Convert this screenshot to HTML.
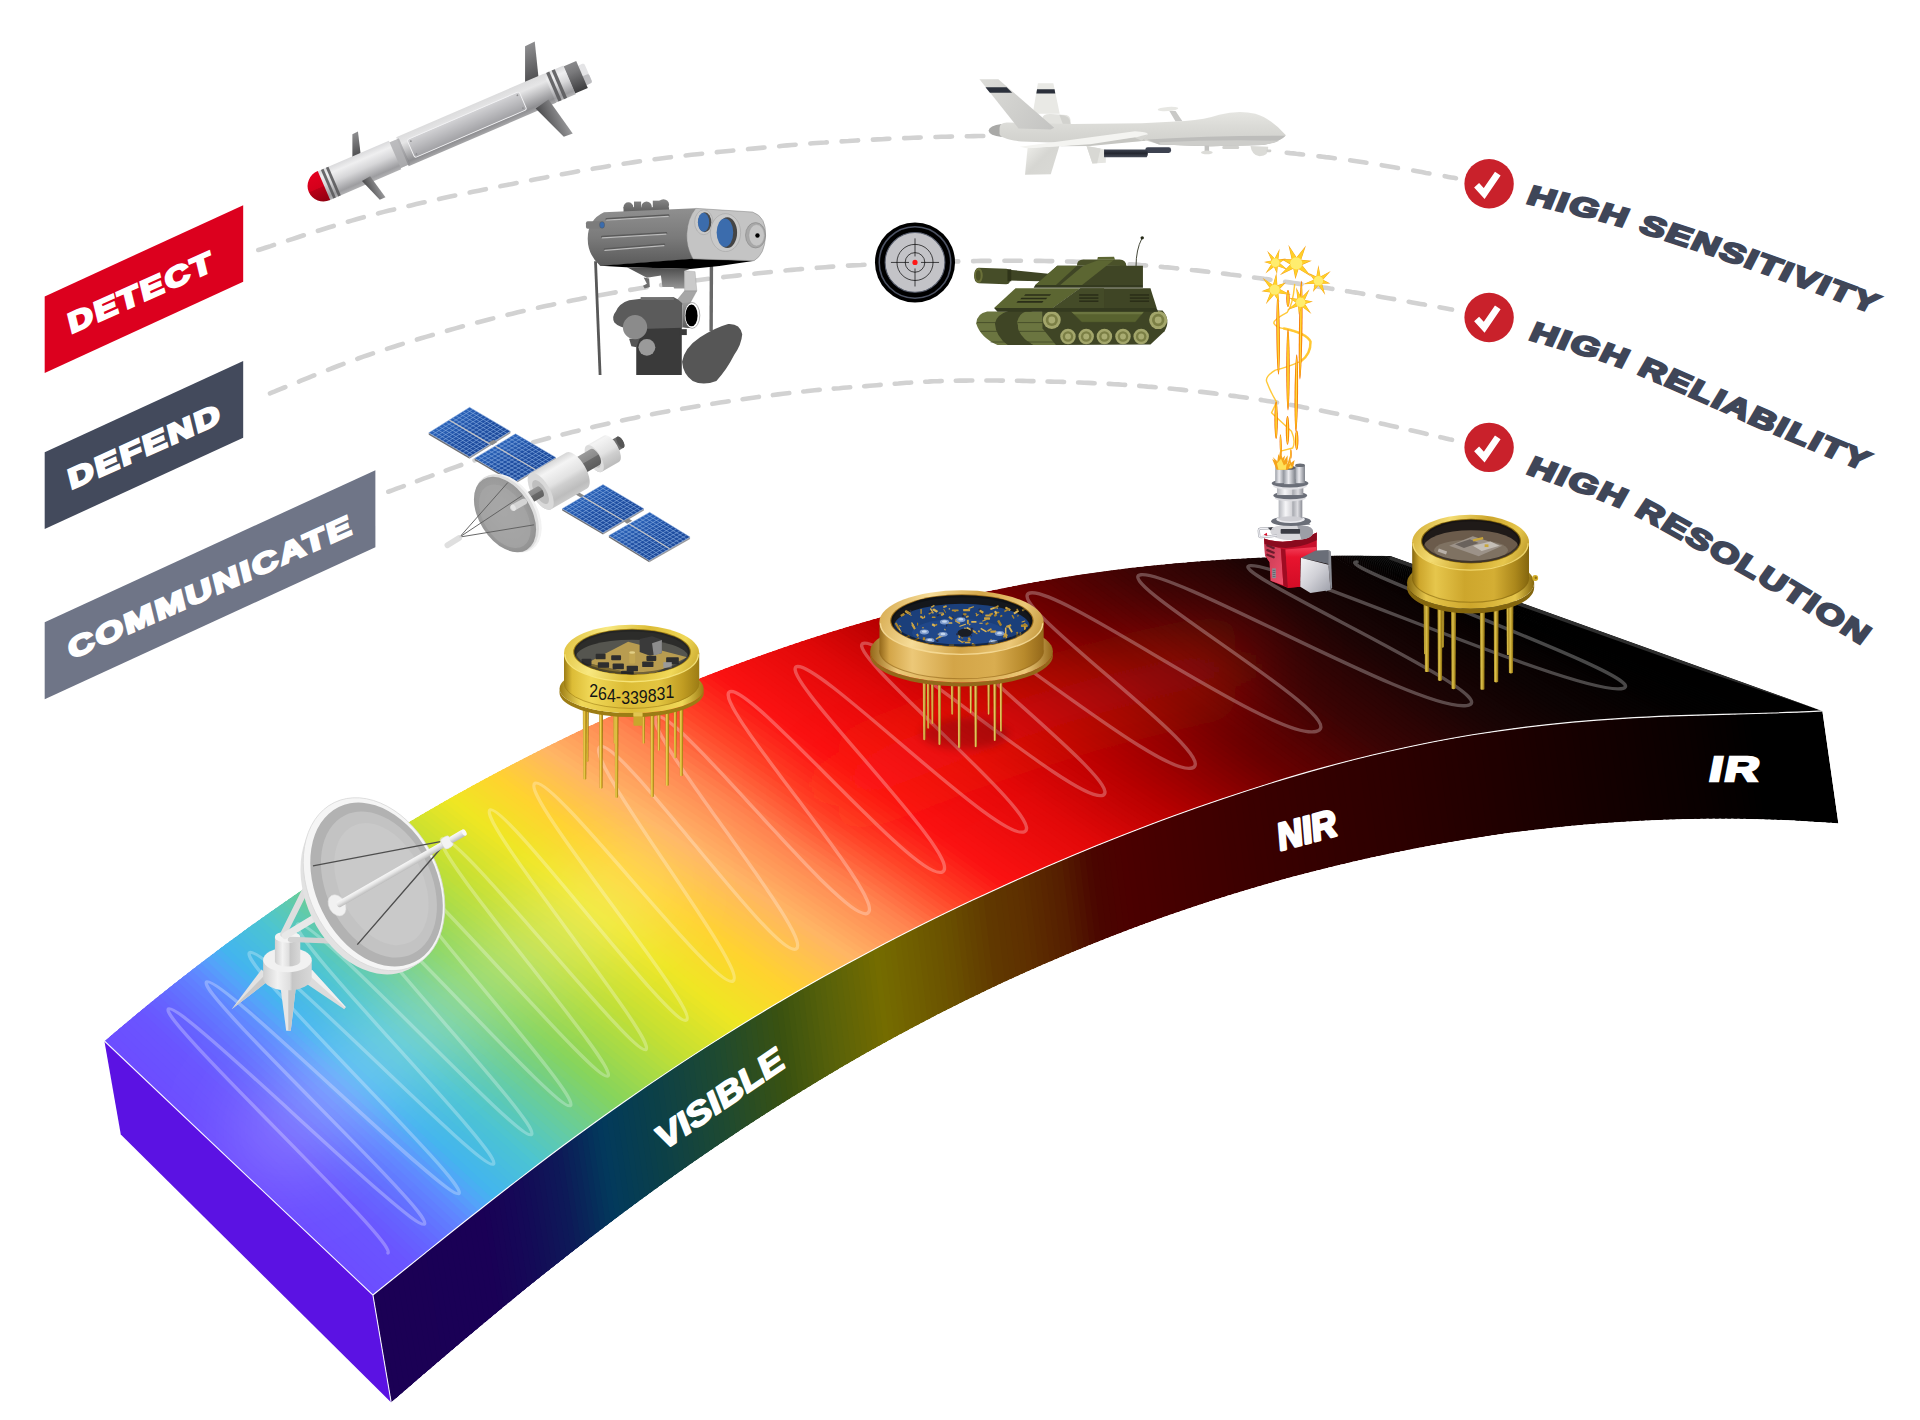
<!DOCTYPE html>
<html lang="en"><head><meta charset="utf-8"><title>Detect Defend Communicate - Spectrum</title>
<style>
html,body{margin:0;padding:0;background:#fff;}
body{width:1920px;height:1420px;overflow:hidden;font-family:"Liberation Sans",sans-serif;}
svg{display:block;}
text{font-family:"Liberation Sans",sans-serif;}
</style></head><body>
<svg width="1920" height="1420" viewBox="0 0 1920 1420">
<defs>



<filter id="blur18" filterUnits="userSpaceOnUse" x="0" y="400" width="1920" height="1020"><feGaussianBlur stdDeviation="40"/></filter>
<clipPath id="clipTop"><path d="M104.4,1041.0 C112.3,1034.4 136.1,1014.2 152.0,1001.3 C167.9,988.4 183.8,975.9 199.7,963.7 C215.6,951.5 231.4,939.8 247.3,928.3 C263.2,916.8 279.0,905.7 294.9,894.8 C310.8,883.9 326.6,873.4 342.5,863.1 C358.4,852.9 374.3,843.0 390.2,833.3 C406.1,823.7 421.9,814.3 437.8,805.1 C453.7,796.0 469.5,787.1 485.4,778.5 C501.3,769.9 517.2,761.7 533.1,753.6 C549.0,745.6 564.8,737.7 580.7,730.1 C596.6,722.6 612.4,715.3 628.3,708.2 C644.2,701.2 660.1,694.5 676.0,687.9 C691.9,681.4 707.7,675.1 723.6,669.0 C739.5,663.0 755.3,657.2 771.2,651.7 C787.1,646.1 802.9,640.7 818.8,635.7 C834.7,630.6 850.6,625.8 866.5,621.3 C882.4,616.7 898.2,612.3 914.1,608.3 C930.0,604.2 945.8,600.4 961.7,596.9 C977.6,593.3 993.5,590.0 1009.4,586.9 C1025.3,583.8 1041.1,580.9 1057.0,578.3 C1072.9,575.7 1088.7,573.3 1104.6,571.2 C1120.5,569.0 1136.4,567.1 1152.3,565.5 C1168.2,563.8 1184.0,562.4 1199.9,561.2 C1215.8,560.0 1231.6,559.0 1247.5,558.2 C1263.4,557.4 1279.2,556.7 1295.1,556.3 C1311.0,555.9 1326.9,555.7 1342.8,555.6 C1358.7,555.5 1382.5,555.8 1390.4,555.9 L1822.4,710.9 L1822.4,710.9 C1814.1,711.3 1789.2,712.5 1772.5,713.0 C1755.8,713.6 1739.2,713.9 1722.5,714.4 C1705.8,714.9 1689.2,715.3 1672.5,715.9 C1655.8,716.6 1639.2,717.4 1622.6,718.4 C1605.9,719.4 1589.3,720.6 1572.6,722.1 C1555.9,723.7 1539.3,725.5 1522.6,727.6 C1505.9,729.7 1489.3,732.1 1472.6,734.8 C1455.9,737.6 1439.3,740.6 1422.6,744.0 C1405.9,747.4 1389.3,751.1 1372.6,755.0 C1355.9,759.0 1339.2,763.3 1322.6,767.9 C1305.9,772.5 1289.3,777.4 1272.7,782.5 C1256.1,787.7 1239.4,793.1 1222.7,798.7 C1206.0,804.3 1189.4,810.1 1172.7,816.2 C1156.0,822.3 1139.4,828.7 1122.7,835.3 C1106.0,841.8 1089.4,848.5 1072.7,855.5 C1056.0,862.5 1039.4,869.7 1022.7,877.2 C1006.0,884.6 989.4,892.3 972.7,900.1 C956.0,908.0 939.4,916.0 922.7,924.3 C906.1,932.6 889.4,941.1 872.8,949.9 C856.1,958.7 839.5,967.7 822.8,977.1 C806.1,986.4 789.5,995.9 772.8,1005.8 C756.1,1015.7 739.5,1025.9 722.8,1036.4 C706.1,1046.8 689.5,1057.6 672.8,1068.6 C656.1,1079.7 639.5,1091.0 622.8,1102.7 C606.1,1114.3 589.4,1126.3 572.8,1138.5 C556.1,1150.7 539.5,1163.3 522.9,1176.1 C506.2,1188.8 489.6,1201.9 472.9,1215.0 C456.2,1228.1 439.6,1241.5 422.9,1254.9 C406.2,1268.2 381.2,1288.3 372.9,1295.0 Z"/></clipPath>
<clipPath id="clipFront"><path d="M372.9,1295.0 C381.2,1288.3 406.2,1268.2 422.9,1254.9 C439.6,1241.5 456.2,1228.1 472.9,1215.0 C489.6,1201.9 506.2,1188.8 522.9,1176.1 C539.5,1163.3 556.1,1150.7 572.8,1138.5 C589.4,1126.3 606.1,1114.3 622.8,1102.7 C639.5,1091.0 656.1,1079.7 672.8,1068.6 C689.5,1057.6 706.1,1046.8 722.8,1036.4 C739.5,1025.9 756.1,1015.7 772.8,1005.8 C789.5,995.9 806.1,986.4 822.8,977.1 C839.5,967.7 856.1,958.7 872.8,949.9 C889.4,941.1 906.1,932.6 922.7,924.3 C939.4,916.0 956.0,908.0 972.7,900.1 C989.4,892.3 1006.0,884.6 1022.7,877.2 C1039.4,869.7 1056.0,862.5 1072.7,855.5 C1089.4,848.5 1106.0,841.8 1122.7,835.3 C1139.4,828.7 1156.0,822.3 1172.7,816.2 C1189.4,810.1 1206.0,804.3 1222.7,798.7 C1239.4,793.1 1256.1,787.7 1272.7,782.5 C1289.3,777.4 1305.9,772.5 1322.6,767.9 C1339.2,763.3 1355.9,759.0 1372.6,755.0 C1389.3,751.1 1405.9,747.4 1422.6,744.0 C1439.3,740.6 1455.9,737.6 1472.6,734.8 C1489.3,732.1 1505.9,729.7 1522.6,727.6 C1539.3,725.5 1555.9,723.7 1572.6,722.1 C1589.3,720.6 1605.9,719.4 1622.6,718.4 C1639.2,717.4 1655.8,716.6 1672.5,715.9 C1689.2,715.3 1705.8,714.9 1722.5,714.4 C1739.2,713.9 1755.8,713.6 1772.5,713.0 C1789.2,712.5 1814.1,711.3 1822.4,710.9 L1838.4,823.4 L1838.4,823.4 C1830.1,822.9 1805.2,821.1 1788.6,820.3 C1772.0,819.6 1755.3,819.0 1738.7,818.8 C1722.1,818.6 1705.4,818.7 1688.8,819.1 C1672.2,819.4 1655.5,820.0 1638.9,820.9 C1622.3,821.7 1605.6,822.9 1589.0,824.3 C1572.4,825.7 1555.7,827.4 1539.1,829.3 C1522.5,831.2 1505.8,833.4 1489.2,835.8 C1472.6,838.3 1455.9,841.0 1439.3,843.9 C1422.7,846.9 1406.0,850.2 1389.4,853.7 C1372.8,857.1 1356.1,860.9 1339.5,864.9 C1322.9,868.9 1306.2,873.1 1289.6,877.6 C1273.0,882.1 1256.3,886.9 1239.7,892.0 C1223.1,897.1 1206.4,902.4 1189.8,908.0 C1173.2,913.6 1156.6,919.5 1139.9,925.6 C1123.2,931.8 1106.6,938.2 1089.9,945.0 C1073.2,951.7 1056.6,958.7 1040.0,966.0 C1023.4,973.3 1006.7,980.8 990.1,988.7 C973.5,996.6 956.8,1004.8 940.2,1013.3 C923.6,1021.8 906.9,1030.6 890.3,1039.7 C873.7,1048.8 857.0,1058.2 840.4,1067.9 C823.8,1077.7 807.1,1087.8 790.5,1098.2 C773.9,1108.5 757.2,1119.2 740.6,1130.2 C724.0,1141.2 707.3,1152.5 690.7,1164.1 C674.1,1175.7 657.4,1187.7 640.8,1199.9 C624.2,1212.1 607.5,1224.6 590.9,1237.4 C574.3,1250.2 557.6,1263.3 541.0,1276.6 C524.4,1290.0 507.7,1303.6 491.1,1317.4 C474.5,1331.2 457.9,1345.2 441.2,1359.4 C424.5,1373.6 399.5,1395.3 391.2,1402.5 Z"/></clipPath>




<linearGradient id="mBody" x1="0" y1="-16" x2="0" y2="16" gradientUnits="userSpaceOnUse">
<stop offset="0" stop-color="#d9d9db"/><stop offset="0.22" stop-color="#efeff0"/><stop offset="0.5" stop-color="#d6d6d8"/><stop offset="0.86" stop-color="#9d9da0"/><stop offset="1" stop-color="#b4b4b6"/>
</linearGradient>
<linearGradient id="mBody2" x1="0" y1="-16" x2="0" y2="16" gradientUnits="userSpaceOnUse">
<stop offset="0" stop-color="#dcdcdd"/><stop offset="0.25" stop-color="#e6e6e7"/><stop offset="0.5" stop-color="#c2c2c4"/><stop offset="0.85" stop-color="#8e8e91"/><stop offset="1" stop-color="#a8a8aa"/>
</linearGradient>
<linearGradient id="mDark" x1="0" y1="-15" x2="0" y2="15" gradientUnits="userSpaceOnUse">
<stop offset="0" stop-color="#8a8a8c"/><stop offset="0.3" stop-color="#7a7a7c"/><stop offset="1" stop-color="#3c3c3e"/>
</linearGradient>
<linearGradient id="mRed" x1="0" y1="-16" x2="0" y2="16" gradientUnits="userSpaceOnUse">
<stop offset="0" stop-color="#e2001f"/><stop offset="0.5" stop-color="#d4001b"/><stop offset="0.52" stop-color="#b90017"/><stop offset="1" stop-color="#8e0010"/>
</linearGradient>
<linearGradient id="mFin" x1="0" y1="0" x2="1" y2="0">
<stop offset="0" stop-color="#4a4a4c"/><stop offset="1" stop-color="#9a9a9c"/>
</linearGradient>
<linearGradient id="mFinV" x1="0" y1="0" x2="0" y2="1">
<stop offset="0" stop-color="#8e8e90"/><stop offset="1" stop-color="#4c4c4e"/>
</linearGradient>


<linearGradient id="dFus" x1="0" y1="300" x2="0" y2="500" gradientUnits="userSpaceOnUse">
<stop offset="0" stop-color="#e6e6e2"/><stop offset="0.45" stop-color="#dadad6"/><stop offset="1" stop-color="#cfcfcb"/>
</linearGradient>
<linearGradient id="dFin" x1="60" y1="110" x2="480" y2="400" gradientUnits="userSpaceOnUse">
<stop offset="0" stop-color="#dcdcd8"/><stop offset="1" stop-color="#c4c4c2"/>
</linearGradient>
<linearGradient id="dWingD" x1="330" y1="510" x2="480" y2="660" gradientUnits="userSpaceOnUse">
<stop offset="0" stop-color="#ecece8"/><stop offset="0.5" stop-color="#d6d6d2"/><stop offset="1" stop-color="#d9d9d5"/>
</linearGradient>
<linearGradient id="dMis" x1="0" y1="520" x2="0" y2="566" gradientUnits="userSpaceOnUse">
<stop offset="0" stop-color="#3e4452"/><stop offset="0.5" stop-color="#23262f"/><stop offset="1" stop-color="#474c59"/>
</linearGradient>


<linearGradient id="bBody" x1="0" y1="170" x2="0" y2="545" gradientUnits="userSpaceOnUse">
<stop offset="0" stop-color="#8e8e8e"/><stop offset="0.5" stop-color="#7a7a7a"/><stop offset="1" stop-color="#5a5a5a"/>
</linearGradient>
<linearGradient id="bKnob" x1="0" y1="100" x2="0" y2="180" gradientUnits="userSpaceOnUse">
<stop offset="0" stop-color="#858585"/><stop offset="1" stop-color="#606060"/>
</linearGradient>
<linearGradient id="bMount" x1="0" y1="555" x2="0" y2="720" gradientUnits="userSpaceOnUse">
<stop offset="0" stop-color="#4a4a4a"/><stop offset="1" stop-color="#a0a0a0"/>
</linearGradient>
<linearGradient id="bCyl" x1="0" y1="800" x2="0" y2="965" gradientUnits="userSpaceOnUse">
<stop offset="0" stop-color="#9a9a9a"/><stop offset="1" stop-color="#5c5c5c"/>
</linearGradient>



<linearGradient id="sPanel" x1="0.5" y1="0" x2="0.5" y2="1"><stop offset="0" stop-color="#2a62b8"/><stop offset="0.5" stop-color="#1f4fa3"/><stop offset="1" stop-color="#1d4a9b"/></linearGradient>
<linearGradient id="sDrum" x1="0" y1="-140" x2="0" y2="140" gradientUnits="userSpaceOnUse">
<stop offset="0" stop-color="#d8d8d8"/><stop offset="0.18" stop-color="#f4f4f4"/><stop offset="0.5" stop-color="#e2e2e2"/><stop offset="0.62" stop-color="#cfcfcf"/><stop offset="0.85" stop-color="#bdbdbd"/><stop offset="1" stop-color="#c9c9c9"/>
</linearGradient>
<linearGradient id="sShaft" x1="0" y1="-60" x2="0" y2="60" gradientUnits="userSpaceOnUse">
<stop offset="0" stop-color="#9a9a9a"/><stop offset="0.45" stop-color="#8a8a8a"/><stop offset="0.5" stop-color="#6a6a6a"/><stop offset="1" stop-color="#5c5c5c"/>
</linearGradient>
<radialGradient id="sDish" cx="0.45" cy="0.5" r="0.6"><stop offset="0" stop-color="#a9a9a9"/><stop offset="0.7" stop-color="#9b9b9b"/><stop offset="1" stop-color="#8e8e8e"/></radialGradient>


<linearGradient id="aCyl" x1="0" y1="0" x2="1" y2="0"><stop offset="0" stop-color="#cfcfcf"/><stop offset="0.3" stop-color="#f2f2f2"/><stop offset="0.55" stop-color="#dedede"/><stop offset="0.6" stop-color="#c6c6c6"/><stop offset="1" stop-color="#d8d8d8"/></linearGradient>
<linearGradient id="aArm" x1="0" y1="-18" x2="0" y2="18" gradientUnits="userSpaceOnUse"><stop offset="0" stop-color="#f8f8f8"/><stop offset="0.45" stop-color="#e6e6e6"/><stop offset="1" stop-color="#bdbdbd"/></linearGradient>


<linearGradient id="c1Pin" x1="0" y1="0" x2="1" y2="0"><stop offset="0" stop-color="#b89020"/><stop offset="0.35" stop-color="#f0d458"/><stop offset="0.6" stop-color="#d4ac28"/><stop offset="1" stop-color="#86660c"/></linearGradient>
<linearGradient id="c1Side" x1="135" y1="0" x2="1095" y2="0" gradientUnits="userSpaceOnUse">
<stop offset="0" stop-color="#9c7c14"/><stop offset="0.06" stop-color="#dcbc36"/><stop offset="0.2" stop-color="#f0d858"/><stop offset="0.45" stop-color="#dcbc36"/><stop offset="0.7" stop-color="#e2c440"/><stop offset="0.88" stop-color="#c09c22"/><stop offset="1" stop-color="#9c7c14"/>
</linearGradient>
<linearGradient id="c1Rim" x1="135" y1="70" x2="1095" y2="470" gradientUnits="userSpaceOnUse">
<stop offset="0" stop-color="#dcbc36"/><stop offset="0.28" stop-color="#f8e880"/><stop offset="0.55" stop-color="#dcbc36"/><stop offset="0.8" stop-color="#f0d858"/><stop offset="1" stop-color="#c09c22"/>
</linearGradient>
<linearGradient id="c1Fl" x1="103" y1="0" x2="1127" y2="0" gradientUnits="userSpaceOnUse">
<stop offset="0" stop-color="#9c7c14"/><stop offset="0.15" stop-color="#f0d858"/><stop offset="0.5" stop-color="#dcbc36"/><stop offset="0.85" stop-color="#f0d858"/><stop offset="1" stop-color="#9c7c14"/>
</linearGradient>
<clipPath id="c1Win"><ellipse cx="618" cy="262" rx="410" ry="158"/></clipPath>
<filter id="c1Bl" x="-30%" y="-30%" width="160%" height="160%"><feGaussianBlur stdDeviation="28"/></filter>

<linearGradient id="c2Pin" x1="0" y1="0" x2="1" y2="0"><stop offset="0" stop-color="#b08a28"/><stop offset="0.35" stop-color="#ecc866"/><stop offset="0.6" stop-color="#cfa23a"/><stop offset="1" stop-color="#80600f"/></linearGradient>
<linearGradient id="c2Side" x1="190" y1="0" x2="1250" y2="0" gradientUnits="userSpaceOnUse">
<stop offset="0" stop-color="#94681a"/><stop offset="0.06" stop-color="#d3a548"/><stop offset="0.2" stop-color="#ecc878"/><stop offset="0.45" stop-color="#d3a548"/><stop offset="0.7" stop-color="#d9ad50"/><stop offset="0.88" stop-color="#b88a2c"/><stop offset="1" stop-color="#94681a"/>
</linearGradient>
<linearGradient id="c2Rim" x1="190" y1="195" x2="1250" y2="605" gradientUnits="userSpaceOnUse">
<stop offset="0" stop-color="#d3a548"/><stop offset="0.28" stop-color="#f6dc98"/><stop offset="0.55" stop-color="#d3a548"/><stop offset="0.8" stop-color="#ecc878"/><stop offset="1" stop-color="#b88a2c"/>
</linearGradient>
<linearGradient id="c2Fl" x1="130" y1="0" x2="1310" y2="0" gradientUnits="userSpaceOnUse">
<stop offset="0" stop-color="#94681a"/><stop offset="0.15" stop-color="#ecc878"/><stop offset="0.5" stop-color="#d3a548"/><stop offset="0.85" stop-color="#ecc878"/><stop offset="1" stop-color="#94681a"/>
</linearGradient>
<clipPath id="c2Win"><ellipse cx="722" cy="392" rx="455" ry="165"/></clipPath>
<filter id="c2Bl" x="-30%" y="-30%" width="160%" height="160%"><feGaussianBlur stdDeviation="28"/></filter>

<linearGradient id="c3Pin" x1="0" y1="0" x2="1" y2="0"><stop offset="0" stop-color="#9c7e16"/><stop offset="0.35" stop-color="#dcc050"/><stop offset="0.6" stop-color="#c0a02c"/><stop offset="1" stop-color="#74580a"/></linearGradient>
<linearGradient id="c3Side" x1="150" y1="0" x2="940" y2="0" gradientUnits="userSpaceOnUse">
<stop offset="0" stop-color="#84660e"/><stop offset="0.06" stop-color="#cda62c"/><stop offset="0.2" stop-color="#e6c64c"/><stop offset="0.45" stop-color="#cda62c"/><stop offset="0.7" stop-color="#d4ae34"/><stop offset="0.88" stop-color="#ac881c"/><stop offset="1" stop-color="#84660e"/>
</linearGradient>
<linearGradient id="c3Rim" x1="150" y1="100" x2="940" y2="470" gradientUnits="userSpaceOnUse">
<stop offset="0" stop-color="#cda62c"/><stop offset="0.28" stop-color="#f4dc72"/><stop offset="0.55" stop-color="#cda62c"/><stop offset="0.8" stop-color="#e6c64c"/><stop offset="1" stop-color="#ac881c"/>
</linearGradient>
<linearGradient id="c3Fl" x1="115" y1="0" x2="975" y2="0" gradientUnits="userSpaceOnUse">
<stop offset="0" stop-color="#84660e"/><stop offset="0.15" stop-color="#e6c64c"/><stop offset="0.5" stop-color="#cda62c"/><stop offset="0.85" stop-color="#e6c64c"/><stop offset="1" stop-color="#84660e"/>
</linearGradient>
<clipPath id="c3Win"><ellipse cx="548" cy="278" rx="330" ry="145"/></clipPath>
<filter id="c3Bl" x="-30%" y="-30%" width="160%" height="160%"><feGaussianBlur stdDeviation="28"/></filter>


<linearGradient id="fCol" x1="0" y1="0" x2="1" y2="0"><stop offset="0" stop-color="#b4b6bc"/><stop offset="0.3" stop-color="#f6f6f8"/><stop offset="0.55" stop-color="#d4d4d8"/><stop offset="0.6" stop-color="#a8aab0"/><stop offset="0.8" stop-color="#dcdce0"/><stop offset="1" stop-color="#8c8e96"/></linearGradient>
<linearGradient id="fTube" x1="0" y1="0" x2="1" y2="0"><stop offset="0" stop-color="#9a9ea6"/><stop offset="0.4" stop-color="#ececf0"/><stop offset="1" stop-color="#7c8088"/></linearGradient>
<linearGradient id="fPink" x1="0" y1="0" x2="1" y2="1"><stop offset="0" stop-color="#c23850"/><stop offset="1" stop-color="#f2506c"/></linearGradient>
<linearGradient id="fRed" x1="0" y1="0" x2="0" y2="1"><stop offset="0" stop-color="#f2405a"/><stop offset="0.25" stop-color="#e8142e"/><stop offset="1" stop-color="#d20c26"/></linearGradient>
<linearGradient id="fBox" x1="0" y1="0" x2="1" y2="1"><stop offset="0" stop-color="#f4f4f6"/><stop offset="0.5" stop-color="#d0d0d6"/><stop offset="1" stop-color="#9c9ea8"/></linearGradient>

</defs>
<rect width="1920" height="1420" fill="#fff"/>
<g fill="none" stroke="#d2d2d2" stroke-width="4.6" stroke-linecap="round">
<path d="M258.3,250.0 L260.9,249.2 L263.8,248.3 L267.0,247.2 L270.6,246.1 L274.4,244.8 L278.5,243.5 L282.9,242.1 L287.4,240.6 L292.2,239.1 L297.1,237.5 L302.2,235.8 L307.5,234.1 L312.8,232.4 L318.3,230.7 L323.8,229.0 L329.3,227.3 L334.9,225.6 L340.6,223.9 L346.2,222.2 L351.7,220.6 L357.3,219.0 L362.7,217.5 L368.1,216.0 L373.3,214.6 L378.5,213.3 L383.8,211.9 L389.1,210.6 L394.5,209.3 L399.9,208.0 L405.4,206.7 L410.9,205.4 L416.4,204.1 L422.0,202.8 L427.6,201.6 L433.2,200.3 L438.9,199.1 L444.5,197.8 L450.2,196.6 L455.9,195.4 L461.6,194.2 L467.2,193.0 L472.9,191.8 L478.6,190.7 L484.3,189.5 L489.9,188.4 L495.5,187.2 L501.1,186.1 L506.7,185.0 L512.3,183.9 L517.8,182.8 L523.4,181.7 L528.9,180.6 L534.5,179.5 L540.0,178.4 L545.6,177.4 L551.1,176.3 L556.7,175.3 L562.2,174.2 L567.8,173.2 L573.4,172.2 L578.9,171.2 L584.5,170.2 L590.0,169.3 L595.6,168.3 L601.1,167.4 L606.7,166.4 L612.2,165.5 L617.8,164.7 L623.3,163.8 L628.9,162.9 L634.4,162.1 L640.0,161.3 L645.6,160.5 L651.2,159.7 L656.9,159.0 L662.6,158.3 L668.3,157.5 L674.1,156.8 L679.9,156.1 L685.7,155.5 L691.5,154.8 L697.2,154.2 L703.0,153.6 L708.7,153.0 L714.4,152.4 L720.1,151.8 L725.8,151.2 L731.3,150.7 L736.9,150.1 L742.3,149.6 L747.7,149.1 L753.0,148.6 L758.2,148.1 L763.4,147.6 L768.4,147.2 L773.3,146.7 L778.1,146.3 L782.8,145.8 L787.3,145.4 L791.8,145.0 L796.1,144.7 L800.4,144.3 L804.6,144.0 L808.7,143.6 L812.8,143.3 L816.8,143.0 L820.8,142.7 L824.8,142.5 L828.7,142.2 L832.6,141.9 L836.5,141.7 L840.5,141.4 L844.4,141.2 L848.4,141.0 L852.4,140.7 L856.4,140.5 L860.5,140.3 L864.7,140.0 L869.0,139.8 L873.3,139.6 L877.7,139.4 L882.1,139.2 L886.5,138.9 L891.0,138.7 L895.4,138.5 L899.9,138.3 L904.4,138.1 L909.0,138.0 L913.5,137.8 L918.1,137.6 L922.7,137.4 L927.3,137.3 L931.9,137.1 L936.5,137.0 L941.1,136.8 L945.8,136.7 L950.4,136.6 L955.1,136.5 L959.8,136.4 L964.5,136.3 L969.2,136.2 L973.9,136.1 L978.6,136.0 L983.3,136.0" stroke-dasharray="16.50 14.82"/>
<path d="M1286.7,152.7 L1290.0,153.1 L1293.2,153.4 L1296.3,153.8 L1299.4,154.1 L1302.5,154.5 L1305.4,154.8 L1308.4,155.1 L1311.3,155.4 L1314.2,155.8 L1317.0,156.1 L1319.9,156.4 L1322.8,156.7 L1325.6,157.1 L1328.5,157.4 L1331.4,157.8 L1334.4,158.2 L1337.4,158.5 L1340.4,158.9 L1343.5,159.3 L1346.6,159.8 L1349.8,160.2 L1353.1,160.7 L1356.5,161.2 L1360.0,161.7 L1363.6,162.3 L1367.5,162.9 L1371.6,163.5 L1375.8,164.2 L1380.2,164.9 L1384.7,165.7 L1389.2,166.5 L1393.9,167.3 L1398.6,168.1 L1403.3,168.9 L1407.9,169.7 L1412.6,170.5 L1417.2,171.3 L1421.7,172.1 L1426.0,172.9 L1430.3,173.6 L1434.3,174.4 L1438.2,175.1 L1441.9,175.7 L1445.3,176.3 L1448.4,176.9 L1451.3,177.4 L1453.8,177.8 L1456.0,178.2" stroke-dasharray="16.50 15.45"/>
<path d="M270.0,393.3 L272.3,392.4 L274.9,391.4 L277.8,390.2 L280.9,388.9 L284.3,387.5 L287.9,386.1 L291.7,384.5 L295.7,382.9 L299.8,381.2 L304.2,379.4 L308.7,377.6 L313.3,375.7 L318.1,373.8 L322.9,371.9 L327.8,369.9 L332.8,368.0 L337.9,366.0 L342.9,364.1 L348.0,362.2 L353.1,360.3 L358.2,358.5 L363.3,356.7 L368.3,355.0 L373.3,353.3 L378.3,351.7 L383.4,350.0 L388.5,348.4 L393.8,346.7 L399.1,345.0 L404.5,343.3 L410.0,341.7 L415.5,340.0 L421.1,338.3 L426.8,336.6 L432.4,335.0 L438.1,333.3 L443.9,331.7 L449.6,330.0 L455.4,328.4 L461.1,326.8 L466.9,325.3 L472.7,323.7 L478.4,322.2 L484.1,320.7 L489.8,319.2 L495.5,317.8 L501.1,316.4 L506.7,315.0 L512.3,313.7 L517.8,312.3 L523.4,311.0 L528.9,309.8 L534.5,308.5 L540.0,307.3 L545.6,306.1 L551.1,304.9 L556.7,303.7 L562.2,302.5 L567.8,301.4 L573.4,300.3 L578.9,299.2 L584.5,298.1 L590.0,297.1 L595.6,296.0 L601.1,295.0 L606.7,294.0 L612.2,293.0 L617.8,292.0 L623.3,291.1 L628.9,290.1 L634.4,289.2 L640.0,288.3 L645.6,287.4 L651.2,286.5 L656.9,285.7 L662.6,284.8 L668.3,284.0 L674.1,283.2 L679.9,282.4 L685.7,281.7 L691.5,280.9 L697.2,280.2 L703.0,279.5 L708.7,278.8 L714.4,278.1 L720.1,277.5 L725.8,276.8 L731.3,276.2 L736.9,275.6 L742.3,275.0 L747.7,274.4 L753.0,273.8 L758.2,273.3 L763.4,272.7 L768.4,272.2 L773.3,271.7 L778.1,271.2 L782.8,270.7 L787.4,270.3 L791.9,269.9 L796.2,269.5 L800.6,269.1 L804.8,268.7 L809.0,268.4 L813.1,268.1 L817.2,267.8 L821.2,267.5 L825.2,267.2 L829.1,266.9 L833.1,266.6 L837.0,266.4 L840.9,266.1 L844.9,265.9 L848.8,265.6 L852.8,265.4 L856.8,265.2 L860.9,265.0 L865.0,264.7 L869.1,264.5 L873.3,264.3 L877.5,264.1 L881.8,263.9 L886.1,263.7 L890.4,263.5 L894.7,263.3 L899.0,263.1 L903.3,262.9 L907.6,262.7 L912.0,262.6 L916.3,262.4 L920.7,262.3 L925.0,262.1 L929.3,262.0 L933.7,261.9 L938.0,261.8 L942.4,261.7 L946.7,261.5 L951.0,261.4 L955.3,261.4 L959.6,261.3 L963.9,261.2 L968.2,261.1 L972.5,261.1 L976.7,261.0 L980.9,260.9 L985.2,260.9 L989.5,260.9 L993.8,260.8 L998.0,260.8 L1002.3,260.8 L1006.6,260.8 L1010.9,260.8 L1015.2,260.8 L1019.5,260.8 L1023.7,260.8 L1028.0,260.8 L1032.2,260.9 L1036.4,260.9 L1040.6,260.9 L1044.7,261.0 L1048.9,261.1 L1053.0,261.1 L1057.0,261.2 L1061.0,261.3 L1065.0,261.4 L1069.0,261.5 L1072.9,261.6 L1076.7,261.7 L1080.5,261.8 L1084.2,261.9 L1087.8,262.1 L1091.4,262.2 L1094.9,262.3 L1098.3,262.5 L1101.7,262.6 L1105.1,262.8 L1108.4,263.0 L1111.7,263.1 L1115.1,263.3 L1118.3,263.5 L1121.6,263.7 L1125.0,263.9 L1128.3,264.2 L1131.6,264.4 L1135.0,264.6 L1138.4,264.9 L1141.8,265.2 L1145.3,265.4 L1148.9,265.7 L1152.5,266.0 L1156.2,266.4 L1160.0,266.7 L1163.8,267.1 L1167.7,267.4 L1171.7,267.8 L1175.7,268.2 L1179.7,268.6 L1183.8,269.1 L1187.9,269.5 L1192.1,270.0 L1196.3,270.4 L1200.5,270.9 L1204.7,271.4 L1209.0,271.9 L1213.2,272.4 L1217.5,272.9 L1221.8,273.4 L1226.0,273.9 L1230.3,274.5 L1234.6,275.0 L1238.9,275.5 L1243.1,276.1 L1247.4,276.6 L1251.6,277.2 L1255.8,277.7 L1260.0,278.3 L1264.2,278.9 L1268.4,279.4 L1272.6,280.0 L1276.8,280.6 L1281.0,281.2 L1285.2,281.8 L1289.4,282.4 L1293.6,283.0 L1297.9,283.6 L1302.1,284.2 L1306.3,284.9 L1310.5,285.5 L1314.7,286.1 L1318.9,286.8 L1323.1,287.4 L1327.3,288.1 L1331.4,288.7 L1335.6,289.4 L1339.7,290.0 L1343.8,290.7 L1347.9,291.3 L1351.9,292.0 L1356.0,292.6 L1360.0,293.3 L1364.1,294.0 L1368.2,294.7 L1372.5,295.4 L1376.9,296.1 L1381.3,296.9 L1385.7,297.7 L1390.2,298.5 L1394.7,299.2 L1399.1,300.0 L1403.6,300.8 L1407.9,301.6 L1412.2,302.4 L1416.5,303.2 L1420.6,303.9 L1424.6,304.6 L1428.4,305.3 L1432.1,306.0 L1435.7,306.6 L1439.0,307.2 L1442.1,307.8 L1445.0,308.3 L1447.6,308.8 L1449.9,309.2 L1452.0,309.6" stroke-dasharray="16.50 14.81"/>
<path d="M388.3,491.7 L391.0,490.8 L394.0,489.7 L397.3,488.4 L401.0,487.1 L405.0,485.6 L409.2,484.0 L413.7,482.3 L418.4,480.6 L423.4,478.7 L428.5,476.9 L433.8,474.9 L439.2,472.9 L444.7,470.9 L450.3,468.9 L456.0,466.9 L461.7,464.8 L467.5,462.8 L473.3,460.8 L479.0,458.9 L484.7,456.9 L490.4,455.1 L495.9,453.3 L501.4,451.6 L506.7,450.0 L512.0,448.4 L517.3,446.9 L522.6,445.4 L528.1,443.8 L533.5,442.3 L539.0,440.8 L544.5,439.3 L550.0,437.8 L555.6,436.4 L561.2,434.9 L566.8,433.5 L572.4,432.1 L578.1,430.7 L583.7,429.3 L589.4,428.0 L595.0,426.6 L600.7,425.3 L606.3,424.0 L612.0,422.7 L617.6,421.5 L623.2,420.2 L628.8,419.0 L634.4,417.9 L640.0,416.7 L645.6,415.6 L651.2,414.4 L656.9,413.3 L662.6,412.3 L668.3,411.2 L674.1,410.2 L679.9,409.2 L685.7,408.2 L691.5,407.2 L697.2,406.2 L703.0,405.3 L708.7,404.4 L714.4,403.5 L720.1,402.6 L725.8,401.7 L731.3,400.9 L736.9,400.1 L742.3,399.3 L747.7,398.5 L753.0,397.8 L758.2,397.0 L763.4,396.3 L768.4,395.7 L773.3,395.0 L778.1,394.4 L782.9,393.8 L787.6,393.2 L792.2,392.7 L796.8,392.1 L801.3,391.6 L805.8,391.2 L810.2,390.7 L814.6,390.3 L818.8,389.9 L823.1,389.5 L827.3,389.2 L831.4,388.8 L835.4,388.5 L839.5,388.2 L843.4,387.8 L847.3,387.5 L851.2,387.2 L855.0,386.9 L858.8,386.7 L862.5,386.4 L866.1,386.1 L869.7,385.8 L873.3,385.5 L876.8,385.2 L880.1,384.9 L883.4,384.7 L886.5,384.4 L889.6,384.2 L892.6,383.9 L895.5,383.7 L898.4,383.5 L901.2,383.2 L903.9,383.0 L906.6,382.8 L909.3,382.7 L912.0,382.5 L914.7,382.3 L917.4,382.1 L920.1,382.0 L922.8,381.8 L925.6,381.7 L928.4,381.6 L931.2,381.4 L934.1,381.3 L937.1,381.2 L940.2,381.1 L943.3,381.0 L946.5,380.9 L949.7,380.8 L953.0,380.8 L956.2,380.7 L959.5,380.6 L962.8,380.6 L966.1,380.6 L969.5,380.5 L972.9,380.5 L976.3,380.5 L979.7,380.5 L983.1,380.5 L986.6,380.5 L990.1,380.5 L993.6,380.5 L997.2,380.5 L1000.8,380.6 L1004.4,380.6 L1008.0,380.7 L1011.7,380.7 L1015.4,380.8 L1019.1,380.8 L1022.9,380.9 L1026.7,381.0 L1030.5,381.1 L1034.5,381.2 L1038.4,381.3 L1042.4,381.4 L1046.4,381.5 L1050.5,381.6 L1054.7,381.7 L1058.8,381.8 L1063.0,381.9 L1067.2,382.1 L1071.4,382.2 L1075.7,382.4 L1079.9,382.5 L1084.2,382.7 L1088.5,382.9 L1092.8,383.1 L1097.0,383.3 L1101.3,383.5 L1105.6,383.7 L1109.8,383.9 L1114.1,384.2 L1118.3,384.4 L1122.5,384.7 L1126.7,385.0 L1130.9,385.3 L1135.0,385.6 L1139.2,385.9 L1143.4,386.2 L1147.5,386.6 L1151.7,386.9 L1155.9,387.3 L1160.0,387.6 L1164.2,388.0 L1168.4,388.4 L1172.5,388.8 L1176.7,389.2 L1180.9,389.6 L1185.0,390.1 L1189.2,390.5 L1193.4,390.9 L1197.5,391.4 L1201.7,391.9 L1205.9,392.4 L1210.0,392.9 L1214.2,393.4 L1218.4,393.9 L1222.5,394.5 L1226.7,395.0 L1230.8,395.6 L1235.0,396.1 L1239.0,396.7 L1243.1,397.3 L1247.1,397.8 L1251.1,398.4 L1255.1,399.0 L1259.1,399.6 L1263.1,400.3 L1267.1,400.9 L1271.1,401.6 L1275.1,402.2 L1279.2,402.9 L1283.2,403.6 L1287.3,404.3 L1291.5,405.0 L1295.7,405.8 L1299.9,406.6 L1304.2,407.4 L1308.6,408.2 L1313.0,409.0 L1317.5,409.9 L1322.0,410.8 L1326.7,411.7 L1331.5,412.7 L1336.7,413.7 L1342.0,414.9 L1347.6,416.0 L1353.3,417.3 L1359.2,418.6 L1365.2,419.9 L1371.2,421.3 L1377.3,422.6 L1383.5,424.0 L1389.6,425.4 L1395.6,426.8 L1401.6,428.2 L1407.4,429.5 L1413.1,430.8 L1418.6,432.1 L1423.9,433.3 L1428.9,434.5 L1433.6,435.6 L1438.1,436.6 L1442.2,437.6 L1445.9,438.4 L1449.2,439.2 L1452.0,439.8" stroke-dasharray="16.50 14.09"/>
</g>
<g transform="matrix(1,-0.4596,0,1,44.7,296.4)"><rect x="0" y="0" width="198.5" height="76.5" fill="#dc001e"/></g><text transform="translate(71.1,333.8) rotate(-24.1) skewX(-10.5) scale(1.320,1)" font-size="27.3" font-weight="bold" letter-spacing="1.8" fill="#fff" stroke="#fff" stroke-width="2.4" stroke-linejoin="miter">DETECT</text>
<g transform="matrix(1,-0.4596,0,1,44.7,452.2)"><rect x="0" y="0" width="198.5" height="76.8" fill="#434a5c"/></g><text transform="translate(71.1,489.6) rotate(-24.1) skewX(-10.5) scale(1.360,1)" font-size="27.3" font-weight="bold" letter-spacing="1.8" fill="#fff" stroke="#fff" stroke-width="2.4" stroke-linejoin="miter">DEFEND</text>
<g transform="matrix(1,-0.4596,0,1,44.7,622.2)"><rect x="0" y="0" width="330.7" height="77.0" fill="#6f7587"/></g><text transform="translate(71.1,659.6) rotate(-24.1) skewX(-10.5) scale(1.378,1)" font-size="27.3" font-weight="bold" letter-spacing="1.8" fill="#fff" stroke="#fff" stroke-width="2.4" stroke-linejoin="miter">COMMUNICATE</text>
<g id="slab">
<path d="M104.4,1041 L372.9,1295 L391.2,1402.5 L120.8,1134.6 Z" fill="#5b12e3"/>
<g clip-path="url(#clipFront)"><path d="M372.9,1295.0L380.6,1288.8L398.7,1396.0L391.2,1402.5Z" fill="#1b0055"/><path d="M377.7,1291.1L385.4,1285.0L403.3,1392.0L395.9,1398.5Z" fill="#1b0055"/><path d="M382.5,1287.3L390.2,1281.1L408.0,1388.0L400.5,1394.4Z" fill="#1b0055"/><path d="M387.3,1283.4L395.0,1277.3L412.7,1383.9L405.2,1390.4Z" fill="#1b0055"/><path d="M392.1,1279.6L399.7,1273.4L417.3,1379.9L409.9,1386.3Z" fill="#1b0055"/><path d="M396.9,1275.7L404.5,1269.6L422.0,1375.9L414.5,1382.3Z" fill="#1b0055"/><path d="M401.7,1271.9L409.3,1265.7L426.7,1371.8L419.2,1378.3Z" fill="#1b0055"/><path d="M406.5,1268.0L414.1,1261.9L431.4,1367.8L423.9,1374.2Z" fill="#1b0055"/><path d="M411.3,1264.2L418.9,1258.0L436.0,1363.8L428.6,1370.2Z" fill="#1b0055"/><path d="M416.1,1260.3L423.7,1254.2L440.7,1359.8L433.2,1366.2Z" fill="#1b0055"/><path d="M420.9,1256.5L428.5,1250.3L445.4,1355.8L437.9,1362.2Z" fill="#1b0055"/><path d="M425.7,1252.6L433.3,1246.5L450.1,1351.8L442.6,1358.2Z" fill="#1a0056"/><path d="M430.5,1248.8L438.1,1242.6L454.8,1347.8L447.3,1354.2Z" fill="#1a0056"/><path d="M435.3,1245.0L443.0,1238.8L459.5,1343.8L452.0,1350.2Z" fill="#1a0056"/><path d="M440.1,1241.1L447.8,1235.0L464.3,1339.8L456.7,1346.2Z" fill="#1a0056"/><path d="M444.9,1237.3L452.6,1231.1L469.0,1335.8L461.4,1342.2Z" fill="#1a0056"/><path d="M449.7,1233.4L457.4,1227.3L473.7,1331.9L466.2,1338.2Z" fill="#1a0056"/><path d="M454.5,1229.6L462.2,1223.5L478.4,1327.9L470.9,1334.3Z" fill="#1a0056"/><path d="M459.3,1225.8L467.0,1219.7L483.2,1324.0L475.6,1330.3Z" fill="#1a0056"/><path d="M464.1,1221.9L471.8,1215.8L487.9,1320.0L480.3,1326.3Z" fill="#1a0056"/><path d="M468.9,1218.1L476.7,1212.0L492.7,1316.1L485.1,1322.4Z" fill="#1a0056"/><path d="M473.8,1214.3L481.5,1208.2L497.4,1312.1L489.8,1318.4Z" fill="#1a0056"/><path d="M478.6,1210.5L486.3,1204.4L502.2,1308.2L494.6,1314.5Z" fill="#1a0056"/><path d="M483.4,1206.7L491.2,1200.6L506.9,1304.3L499.3,1310.6Z" fill="#190156"/><path d="M488.3,1202.9L496.0,1196.8L511.7,1300.4L504.1,1306.6Z" fill="#180356"/><path d="M493.1,1199.1L500.9,1193.1L516.5,1296.5L508.9,1302.7Z" fill="#180456"/><path d="M498.0,1195.3L505.7,1189.3L521.3,1292.6L513.6,1298.8Z" fill="#170556"/><path d="M502.8,1191.6L510.6,1185.5L526.1,1288.7L518.4,1294.9Z" fill="#160657"/><path d="M507.7,1187.8L515.5,1181.8L530.9,1284.8L523.2,1291.0Z" fill="#160757"/><path d="M512.6,1184.0L520.3,1178.0L535.7,1280.9L528.0,1287.1Z" fill="#150957"/><path d="M517.4,1180.3L525.2,1174.3L540.5,1277.1L532.8,1283.2Z" fill="#140a57"/><path d="M522.3,1176.5L530.1,1170.5L545.3,1273.2L537.6,1279.4Z" fill="#130c57"/><path d="M527.2,1172.8L535.0,1166.8L550.1,1269.4L542.4,1275.5Z" fill="#120e57"/><path d="M532.1,1169.0L539.9,1163.1L555.0,1265.5L547.2,1271.7Z" fill="#121057"/><path d="M537.0,1165.3L544.8,1159.4L559.8,1261.7L552.1,1267.8Z" fill="#111257"/><path d="M541.9,1161.6L549.7,1155.7L564.6,1257.9L556.9,1264.0Z" fill="#101458"/><path d="M546.8,1157.9L554.6,1152.0L569.5,1254.1L561.7,1260.2Z" fill="#0f1658"/><path d="M551.7,1154.2L559.6,1148.3L574.4,1250.3L566.6,1256.3Z" fill="#0e1858"/><path d="M556.6,1150.5L564.5,1144.6L579.2,1246.5L571.4,1252.5Z" fill="#0d1a58"/><path d="M561.5,1146.8L569.5,1141.0L584.1,1242.7L576.3,1248.7Z" fill="#0c1e58"/><path d="M566.5,1143.2L574.4,1137.3L589.0,1238.9L581.2,1244.9Z" fill="#0a2259"/><path d="M571.4,1139.5L579.4,1133.7L593.9,1235.1L586.1,1241.2Z" fill="#092559"/><path d="M576.4,1135.9L584.3,1130.1L598.8,1231.4L590.9,1237.4Z" fill="#08295a"/><path d="M581.4,1132.2L589.3,1126.5L603.7,1227.7L595.8,1233.6Z" fill="#062d5a"/><path d="M586.3,1128.6L594.3,1122.9L608.6,1223.9L600.7,1229.9Z" fill="#05315b"/><path d="M591.3,1125.0L599.3,1119.3L613.5,1220.2L605.7,1226.2Z" fill="#04355b"/><path d="M596.3,1121.4L604.3,1115.7L618.5,1216.5L610.6,1222.4Z" fill="#03385c"/><path d="M601.3,1117.8L609.3,1112.1L623.4,1212.8L615.5,1218.7Z" fill="#033a5b"/><path d="M606.3,1114.3L614.4,1108.6L628.3,1209.1L620.4,1215.0Z" fill="#043b59"/><path d="M611.3,1110.7L619.4,1105.1L633.3,1205.4L625.4,1211.3Z" fill="#043b57"/><path d="M616.4,1107.2L624.4,1101.5L638.3,1201.8L630.3,1207.6Z" fill="#053c55"/><path d="M621.4,1103.6L629.5,1098.0L643.2,1198.1L635.3,1204.0Z" fill="#063d53"/><path d="M626.4,1100.1L634.5,1094.5L648.2,1194.5L640.3,1200.3Z" fill="#073d51"/><path d="M631.5,1096.6L639.6,1091.0L653.2,1190.8L645.2,1196.7Z" fill="#083e4f"/><path d="M636.6,1093.1L644.7,1087.5L658.2,1187.2L650.2,1193.0Z" fill="#093e4d"/><path d="M641.6,1089.6L649.8,1084.1L663.2,1183.6L655.2,1189.4Z" fill="#0a3f4b"/><path d="M646.7,1086.2L654.8,1080.6L668.2,1180.0L660.2,1185.8Z" fill="#0b4049"/><path d="M651.8,1082.7L659.9,1077.2L673.2,1176.4L665.2,1182.2Z" fill="#0c4047"/><path d="M656.9,1079.3L665.1,1073.8L678.3,1172.8L670.2,1178.6Z" fill="#0e4146"/><path d="M662.0,1075.8L670.2,1070.4L683.3,1169.3L675.3,1175.0Z" fill="#104244"/><path d="M667.1,1072.4L675.3,1067.0L688.4,1165.7L680.3,1171.4Z" fill="#114342"/><path d="M672.2,1069.0L680.4,1063.6L693.4,1162.2L685.3,1167.9Z" fill="#134340"/><path d="M677.4,1065.6L685.6,1060.2L698.5,1158.7L690.4,1164.3Z" fill="#14443e"/><path d="M682.5,1062.2L690.7,1056.8L703.6,1155.2L695.4,1160.8Z" fill="#16453c"/><path d="M687.6,1058.9L695.9,1053.5L708.6,1151.7L700.5,1157.3Z" fill="#17463a"/><path d="M692.8,1055.5L701.1,1050.2L713.7,1148.2L705.6,1153.8Z" fill="#194738"/><path d="M698.0,1052.2L706.2,1046.8L718.8,1144.7L710.7,1150.3Z" fill="#1a4836"/><path d="M703.1,1048.8L711.4,1043.5L724.0,1141.3L715.8,1146.8Z" fill="#1c4834"/><path d="M708.3,1045.5L716.6,1040.2L729.1,1137.8L720.9,1143.3Z" fill="#1d4932"/><path d="M713.5,1042.2L721.8,1037.0L734.2,1134.4L726.0,1139.9Z" fill="#1f4a30"/><path d="M718.7,1038.9L727.0,1033.7L739.4,1131.0L731.1,1136.5Z" fill="#214b2d"/><path d="M723.9,1035.7L732.3,1030.4L744.5,1127.6L736.3,1133.0Z" fill="#244b2b"/><path d="M729.1,1032.4L737.5,1027.2L749.7,1124.2L741.4,1129.6Z" fill="#264c28"/><path d="M734.4,1029.1L742.7,1024.0L754.8,1120.9L746.6,1126.2Z" fill="#284d25"/><path d="M739.6,1025.9L748.0,1020.8L760.0,1117.5L751.7,1122.9Z" fill="#2a4d22"/><path d="M744.8,1022.7L753.2,1017.6L765.2,1114.2L756.9,1119.5Z" fill="#2d4e20"/><path d="M750.1,1019.5L758.5,1014.4L770.4,1110.8L762.1,1116.2Z" fill="#2f4f1d"/><path d="M755.3,1016.3L763.8,1011.2L775.6,1107.5L767.3,1112.8Z" fill="#314f1a"/><path d="M760.6,1013.1L769.0,1008.0L780.8,1104.2L772.5,1109.5Z" fill="#345018"/><path d="M765.9,1009.9L774.3,1004.9L786.1,1100.9L777.7,1106.2Z" fill="#365115"/><path d="M771.2,1006.8L779.6,1001.8L791.3,1097.7L782.9,1102.9Z" fill="#385112"/><path d="M776.4,1003.7L784.9,998.7L796.5,1094.4L788.2,1099.6Z" fill="#3b5210"/><path d="M781.8,1000.5L790.3,995.6L801.8,1091.2L793.4,1096.4Z" fill="#3e540f"/><path d="M787.1,997.4L795.6,992.5L807.0,1087.9L798.6,1093.1Z" fill="#42560e"/><path d="M792.4,994.4L800.9,989.4L812.3,1084.7L803.9,1089.9Z" fill="#45580e"/><path d="M797.7,991.3L806.3,986.4L817.6,1081.5L809.1,1086.7Z" fill="#48590d"/><path d="M803.0,988.2L811.6,983.4L822.9,1078.3L814.4,1083.4Z" fill="#4c5b0c"/><path d="M808.4,985.2L817.0,980.3L828.2,1075.2L819.7,1080.2Z" fill="#4f5d0b"/><path d="M813.7,982.1L822.3,977.3L833.5,1072.0L825.0,1077.1Z" fill="#535f0b"/><path d="M819.1,979.1L827.7,974.3L838.8,1068.9L830.3,1073.9Z" fill="#56600a"/><path d="M824.5,976.1L833.1,971.4L844.1,1065.8L835.6,1070.8Z" fill="#596209"/><path d="M829.9,973.1L838.5,968.4L849.5,1062.7L840.9,1067.6Z" fill="#5c6308"/><path d="M835.2,970.2L843.9,965.4L854.8,1059.6L846.3,1064.5Z" fill="#5f6407"/><path d="M840.6,967.2L849.3,962.5L860.2,1056.5L851.6,1061.4Z" fill="#626506"/><path d="M846.0,964.3L854.7,959.6L865.5,1053.5L856.9,1058.4Z" fill="#656605"/><path d="M851.4,961.3L860.1,956.7L870.9,1050.5L862.3,1055.3Z" fill="#686704"/><path d="M856.9,958.4L865.5,953.8L876.3,1047.5L867.7,1052.3Z" fill="#6b6803"/><path d="M862.3,955.5L871.0,950.9L881.7,1044.5L873.1,1049.3Z" fill="#6e6902"/><path d="M867.7,952.6L876.4,948.0L887.1,1041.5L878.5,1046.3Z" fill="#716b01"/><path d="M873.1,949.7L881.9,945.2L892.5,1038.5L883.9,1043.3Z" fill="#746c00"/><path d="M878.6,946.9L887.3,942.3L897.9,1035.6L889.3,1040.3Z" fill="#746a00"/><path d="M884.0,944.0L892.8,939.5L903.4,1032.6L894.7,1037.3Z" fill="#736800"/><path d="M889.5,941.2L898.2,936.7L908.8,1029.7L900.1,1034.4Z" fill="#736600"/><path d="M895.0,938.3L903.7,933.9L914.2,1026.8L905.5,1031.5Z" fill="#726300"/><path d="M900.4,935.5L909.2,931.1L919.7,1023.9L911.0,1028.6Z" fill="#716100"/><path d="M905.9,932.7L914.7,928.3L925.2,1021.1L916.4,1025.7Z" fill="#705f00"/><path d="M911.4,930.0L920.2,925.5L930.6,1018.2L921.9,1022.8Z" fill="#6f5d00"/><path d="M916.9,927.2L925.7,922.8L936.1,1015.4L927.4,1019.9Z" fill="#6e5a00"/><path d="M922.4,924.4L931.2,920.1L941.6,1012.6L932.8,1017.1Z" fill="#6d5800"/><path d="M927.9,921.7L936.7,917.4L947.1,1009.8L938.3,1014.3Z" fill="#6c5600"/><path d="M933.4,919.0L942.2,914.7L952.6,1007.0L943.8,1011.5Z" fill="#6b5400"/><path d="M938.9,916.3L947.8,912.0L958.1,1004.2L949.3,1008.7Z" fill="#6b5100"/><path d="M944.5,913.6L953.3,909.3L963.7,1001.5L954.8,1005.9Z" fill="#694f00"/><path d="M950.0,910.9L958.9,906.7L969.2,998.8L960.4,1003.1Z" fill="#684c00"/><path d="M955.5,908.3L964.4,904.0L974.8,996.1L965.9,1000.4Z" fill="#674800"/><path d="M961.1,905.6L970.0,901.4L980.3,993.4L971.4,997.7Z" fill="#654500"/><path d="M966.7,903.0L975.6,898.8L985.9,990.7L977.0,995.0Z" fill="#644200"/><path d="M972.2,900.3L981.1,896.2L991.4,988.1L982.5,992.3Z" fill="#633f00"/><path d="M977.8,897.7L986.7,893.6L997.0,985.4L988.1,989.6Z" fill="#623c00"/><path d="M983.4,895.1L992.3,891.0L1002.6,982.8L993.7,987.0Z" fill="#603800"/><path d="M988.9,892.5L997.9,888.4L1008.2,980.2L999.3,984.4Z" fill="#603700"/><path d="M994.5,890.0L1003.5,885.9L1013.8,977.7L1004.9,981.8Z" fill="#5f3500"/><path d="M1000.1,887.4L1009.1,883.3L1019.4,975.1L1010.5,979.2Z" fill="#5f3400"/><path d="M1005.7,884.8L1014.7,880.8L1025.1,972.6L1016.1,976.6Z" fill="#5f3200"/><path d="M1011.3,882.3L1020.3,878.3L1030.7,970.1L1021.7,974.1Z" fill="#5e3100"/><path d="M1016.9,879.8L1025.9,875.7L1036.4,967.6L1027.3,971.6Z" fill="#5e2f00"/><path d="M1022.5,877.2L1031.5,873.3L1042.0,965.1L1033.0,969.1Z" fill="#5c2d00"/><path d="M1028.2,874.7L1037.2,870.8L1047.7,962.6L1038.6,966.6Z" fill="#5b2a00"/><path d="M1033.8,872.3L1042.8,868.3L1053.3,960.2L1044.3,964.1Z" fill="#5a2800"/><path d="M1039.4,869.8L1048.4,865.9L1059.0,957.8L1049.9,961.7Z" fill="#592500"/><path d="M1045.0,867.3L1054.1,863.4L1064.7,955.4L1055.6,959.2Z" fill="#572300"/><path d="M1050.7,864.9L1059.7,861.0L1070.4,953.0L1061.3,956.8Z" fill="#562000"/><path d="M1056.3,862.5L1065.4,858.6L1076.1,950.6L1067.0,954.4Z" fill="#551e00"/><path d="M1062.0,860.0L1071.1,856.2L1081.8,948.3L1072.7,952.0Z" fill="#531900"/><path d="M1067.7,857.6L1076.7,853.8L1087.5,945.9L1078.4,949.7Z" fill="#511500"/><path d="M1073.3,855.3L1082.4,851.5L1093.2,943.6L1084.1,947.3Z" fill="#4f1100"/><path d="M1079.0,852.9L1088.1,849.1L1099.0,941.3L1089.8,945.0Z" fill="#4d0c00"/><path d="M1084.7,850.5L1093.8,846.8L1104.7,939.1L1095.5,942.7Z" fill="#4b0800"/><path d="M1090.4,848.2L1099.5,844.5L1110.4,936.8L1101.2,940.4Z" fill="#4a0500"/><path d="M1096.1,845.9L1105.2,842.2L1116.2,934.6L1107.0,938.2Z" fill="#4a0400"/><path d="M1101.8,843.6L1110.9,839.9L1122.0,932.4L1112.7,935.9Z" fill="#4a0300"/><path d="M1107.5,841.3L1116.6,837.7L1127.7,930.2L1118.5,933.7Z" fill="#4b0200"/><path d="M1113.2,839.0L1122.4,835.4L1133.5,928.0L1124.3,931.5Z" fill="#4b0100"/><path d="M1118.9,836.8L1128.1,833.2L1139.3,925.9L1130.0,929.3Z" fill="#4b0000"/><path d="M1124.7,834.5L1133.8,830.9L1145.1,923.7L1135.8,927.2Z" fill="#4a0000"/><path d="M1130.4,832.3L1139.6,828.7L1150.9,921.6L1141.6,925.0Z" fill="#490000"/><path d="M1136.1,830.0L1145.3,826.5L1156.7,919.5L1147.4,922.9Z" fill="#490000"/><path d="M1141.9,827.8L1151.1,824.3L1162.5,917.5L1153.2,920.8Z" fill="#480000"/><path d="M1147.6,825.6L1156.8,822.1L1168.3,915.4L1159.0,918.7Z" fill="#470000"/><path d="M1153.4,823.4L1162.6,820.0L1174.1,913.4L1164.8,916.6Z" fill="#460000"/><path d="M1159.1,821.3L1168.3,817.8L1180.0,911.4L1170.6,914.6Z" fill="#460000"/><path d="M1164.9,819.1L1174.1,815.7L1185.8,909.4L1176.5,912.6Z" fill="#450000"/><path d="M1170.6,817.0L1179.9,813.6L1191.7,907.4L1182.3,910.6Z" fill="#440000"/><path d="M1176.4,814.9L1185.7,811.5L1197.5,905.4L1188.2,908.6Z" fill="#430000"/><path d="M1182.2,812.8L1191.5,809.5L1203.4,903.5L1194.0,906.6Z" fill="#430000"/><path d="M1188.0,810.7L1197.3,807.4L1209.2,901.6L1199.9,904.7Z" fill="#420000"/><path d="M1193.8,808.6L1203.1,805.4L1215.1,899.7L1205.7,902.7Z" fill="#410000"/><path d="M1199.6,806.6L1208.9,803.4L1221.0,897.8L1211.6,900.8Z" fill="#400000"/><path d="M1205.4,804.6L1214.7,801.4L1226.9,896.0L1217.5,898.9Z" fill="#400000"/><path d="M1211.2,802.6L1220.5,799.4L1232.8,894.1L1223.3,897.1Z" fill="#3f0000"/><path d="M1217.0,800.6L1226.4,797.4L1238.7,892.3L1229.2,895.2Z" fill="#3e0000"/><path d="M1222.9,798.6L1232.2,795.5L1244.6,890.5L1235.1,893.4Z" fill="#3d0000"/><path d="M1228.7,796.7L1238.0,793.6L1250.5,888.8L1241.0,891.6Z" fill="#3d0000"/><path d="M1234.5,794.7L1243.9,791.7L1256.4,887.0L1246.9,889.8Z" fill="#3c0000"/><path d="M1240.4,792.8L1249.7,789.8L1262.3,885.3L1252.9,888.1Z" fill="#3b0000"/><path d="M1246.2,790.9L1255.6,787.9L1268.3,883.6L1258.8,886.3Z" fill="#3a0000"/><path d="M1252.1,789.0L1261.5,786.0L1274.2,881.9L1264.7,884.6Z" fill="#3a0000"/><path d="M1257.9,787.1L1267.3,784.2L1280.1,880.2L1270.6,882.9Z" fill="#390000"/><path d="M1263.8,785.3L1273.2,782.4L1286.1,878.6L1276.6,881.2Z" fill="#380000"/><path d="M1269.7,783.5L1279.1,780.6L1292.0,876.9L1282.5,879.5Z" fill="#380000"/><path d="M1275.6,781.7L1285.0,778.8L1298.0,875.3L1288.5,877.9Z" fill="#370000"/><path d="M1281.4,779.9L1290.9,777.0L1304.0,873.8L1294.4,876.3Z" fill="#370000"/><path d="M1287.3,778.1L1296.8,775.3L1309.9,872.2L1300.4,874.7Z" fill="#360000"/><path d="M1293.2,776.3L1302.7,773.5L1315.9,870.7L1306.3,873.1Z" fill="#350000"/><path d="M1299.1,774.6L1308.6,771.8L1321.9,869.2L1312.3,871.6Z" fill="#350000"/><path d="M1305.0,772.8L1314.5,770.1L1327.9,867.7L1318.3,870.1Z" fill="#340000"/><path d="M1310.9,771.2L1320.4,768.5L1333.9,866.2L1324.3,868.6Z" fill="#340000"/><path d="M1316.9,769.5L1326.3,766.9L1339.9,864.8L1330.3,867.1Z" fill="#330000"/><path d="M1322.8,767.8L1332.3,765.3L1345.9,863.4L1336.3,865.6Z" fill="#320000"/><path d="M1328.7,766.2L1338.2,763.7L1351.9,861.9L1342.3,864.2Z" fill="#320000"/><path d="M1334.7,764.6L1344.2,762.1L1357.9,860.6L1348.3,862.8Z" fill="#310000"/><path d="M1340.6,763.0L1350.1,760.6L1363.9,859.2L1354.3,861.4Z" fill="#310000"/><path d="M1346.6,761.5L1356.1,759.1L1369.9,857.9L1360.3,860.0Z" fill="#300000"/><path d="M1352.5,760.0L1362.1,757.6L1376.0,856.5L1366.3,858.7Z" fill="#300000"/><path d="M1358.5,758.5L1368.0,756.1L1382.0,855.2L1372.4,857.3Z" fill="#2f0000"/><path d="M1364.5,757.0L1374.0,754.7L1388.0,853.9L1378.4,856.0Z" fill="#2e0000"/><path d="M1370.4,755.6L1380.0,753.3L1394.1,852.7L1384.4,854.7Z" fill="#2e0000"/><path d="M1376.4,754.1L1386.0,751.9L1400.1,851.4L1390.5,853.4Z" fill="#2d0000"/><path d="M1382.4,752.7L1392.0,750.5L1406.2,850.2L1396.5,852.2Z" fill="#2d0000"/><path d="M1388.4,751.3L1398.0,749.2L1412.2,849.0L1402.5,850.9Z" fill="#2c0000"/><path d="M1394.4,750.0L1404.0,747.9L1418.3,847.8L1408.6,849.7Z" fill="#2b0000"/><path d="M1400.4,748.7L1410.0,746.6L1424.3,846.7L1414.6,848.5Z" fill="#2b0000"/><path d="M1406.4,747.4L1416.1,745.3L1430.4,845.6L1420.7,847.4Z" fill="#2a0000"/><path d="M1412.4,746.1L1422.1,744.1L1436.5,844.4L1426.8,846.2Z" fill="#290000"/><path d="M1418.5,744.8L1428.1,742.9L1442.6,843.4L1432.8,845.1Z" fill="#280000"/><path d="M1424.5,743.6L1434.1,741.7L1448.6,842.3L1438.9,844.0Z" fill="#280000"/><path d="M1430.5,742.4L1440.2,740.6L1454.7,841.3L1445.0,842.9Z" fill="#270000"/><path d="M1436.6,741.2L1446.2,739.4L1460.8,840.2L1451.1,841.9Z" fill="#260000"/><path d="M1442.6,740.1L1452.3,738.3L1466.9,839.3L1457.2,840.9Z" fill="#250000"/><path d="M1448.7,739.0L1458.3,737.3L1473.0,838.3L1463.2,839.8Z" fill="#250000"/><path d="M1454.7,737.9L1464.4,736.2L1479.1,837.3L1469.3,838.9Z" fill="#240000"/><path d="M1460.8,736.8L1470.5,735.2L1485.2,836.4L1475.4,837.9Z" fill="#230000"/><path d="M1466.8,735.8L1476.5,734.2L1491.3,835.5L1481.5,837.0Z" fill="#230000"/><path d="M1472.9,734.8L1482.6,733.2L1497.4,834.6L1487.6,836.1Z" fill="#220000"/><path d="M1479.0,733.8L1488.7,732.3L1503.5,833.8L1493.7,835.2Z" fill="#210000"/><path d="M1485.0,732.9L1494.8,731.4L1509.6,833.0L1499.8,834.3Z" fill="#200000"/><path d="M1491.1,731.9L1500.9,730.5L1515.7,832.2L1506.0,833.5Z" fill="#200000"/><path d="M1497.2,731.0L1507.0,729.7L1521.9,831.4L1512.1,832.6Z" fill="#1f0000"/><path d="M1503.3,730.2L1513.1,728.8L1528.0,830.6L1518.2,831.8Z" fill="#1e0000"/><path d="M1509.4,729.3L1519.2,728.0L1534.1,829.9L1524.3,831.1Z" fill="#1d0000"/><path d="M1515.5,728.5L1525.3,727.3L1540.3,829.2L1530.4,830.3Z" fill="#1d0000"/><path d="M1521.6,727.7L1531.4,726.5L1546.4,828.5L1536.6,829.6Z" fill="#1c0000"/><path d="M1527.7,727.0L1537.5,725.8L1552.5,827.8L1542.7,828.9Z" fill="#1b0000"/><path d="M1533.8,726.2L1543.6,725.1L1558.7,827.2L1548.8,828.2Z" fill="#1a0000"/><path d="M1539.9,725.5L1549.7,724.4L1564.8,826.5L1555.0,827.5Z" fill="#1a0000"/><path d="M1546.0,724.8L1555.8,723.8L1570.9,825.9L1561.1,826.9Z" fill="#190000"/><path d="M1552.1,724.2L1561.9,723.2L1577.1,825.3L1567.2,826.3Z" fill="#180000"/><path d="M1558.3,723.5L1568.1,722.6L1583.2,824.8L1573.4,825.7Z" fill="#180000"/><path d="M1564.4,722.9L1574.2,722.0L1589.4,824.3L1579.5,825.1Z" fill="#170000"/><path d="M1570.5,722.3L1580.3,721.5L1595.5,823.8L1585.7,824.6Z" fill="#160000"/><path d="M1576.6,721.8L1586.4,720.9L1601.7,823.3L1591.8,824.1Z" fill="#150000"/><path d="M1582.8,721.3L1592.6,720.5L1607.8,822.8L1598.0,823.6Z" fill="#150000"/><path d="M1588.9,720.7L1598.7,720.0L1614.0,822.4L1604.1,823.1Z" fill="#140000"/><path d="M1595.0,720.3L1604.8,719.6L1620.1,822.0L1610.3,822.6Z" fill="#130000"/><path d="M1601.2,719.8L1611.0,719.1L1626.3,821.6L1616.4,822.2Z" fill="#130000"/><path d="M1607.3,719.4L1617.1,718.7L1632.5,821.2L1622.6,821.8Z" fill="#120000"/><path d="M1613.4,719.0L1623.3,718.4L1638.6,820.9L1628.8,821.4Z" fill="#110000"/><path d="M1619.6,718.6L1629.4,718.0L1644.8,820.6L1634.9,821.1Z" fill="#110000"/><path d="M1625.7,718.2L1635.5,717.6L1650.9,820.3L1641.1,820.8Z" fill="#100000"/><path d="M1631.8,717.8L1641.7,717.3L1657.1,820.0L1647.2,820.5Z" fill="#0f0000"/><path d="M1638.0,717.5L1647.8,717.0L1663.3,819.8L1653.4,820.2Z" fill="#0e0000"/><path d="M1644.1,717.2L1654.0,716.7L1669.4,819.6L1659.6,819.9Z" fill="#0e0000"/><path d="M1650.3,716.9L1660.1,716.5L1675.6,819.4L1665.7,819.7Z" fill="#0d0000"/><path d="M1656.4,716.6L1666.3,716.2L1681.8,819.2L1671.9,819.5Z" fill="#0c0000"/><path d="M1662.6,716.4L1672.4,715.9L1688.0,819.1L1678.1,819.3Z" fill="#0c0000"/><path d="M1668.7,716.1L1678.5,715.7L1694.1,819.0L1684.3,819.2Z" fill="#0b0000"/><path d="M1674.9,715.9L1684.7,715.5L1700.3,818.9L1690.4,819.0Z" fill="#0a0000"/><path d="M1681.0,715.6L1690.8,715.3L1706.5,818.8L1696.6,818.9Z" fill="#0a0000"/><path d="M1687.2,715.4L1697.0,715.1L1712.6,818.7L1702.8,818.8Z" fill="#090000"/><path d="M1693.3,715.2L1703.1,714.9L1718.8,818.7L1708.9,818.8Z" fill="#080000"/><path d="M1699.5,715.0L1709.3,714.8L1725.0,818.7L1715.1,818.7Z" fill="#070000"/><path d="M1705.6,714.9L1715.4,714.6L1731.1,818.8L1721.3,818.7Z" fill="#060000"/><path d="M1711.7,714.7L1721.6,714.4L1737.3,818.8L1727.4,818.7Z" fill="#050000"/><path d="M1717.9,714.5L1727.7,714.3L1743.5,818.9L1733.6,818.8Z" fill="#050000"/><path d="M1724.0,714.4L1733.9,714.1L1749.7,819.0L1739.8,818.8Z" fill="#040000"/><path d="M1730.2,714.2L1740.0,713.9L1755.8,819.2L1746.0,818.9Z" fill="#030000"/><path d="M1736.3,714.0L1746.2,713.8L1762.0,819.3L1752.1,819.1Z" fill="#020000"/><path d="M1742.5,713.9L1752.3,713.6L1768.2,819.5L1758.3,819.2Z" fill="#010000"/><path d="M1748.6,713.7L1758.5,713.5L1774.3,819.7L1764.5,819.4Z" fill="#000000"/><path d="M1754.8,713.6L1764.6,713.3L1780.5,820.0L1770.6,819.6Z" fill="#000000"/><path d="M1760.9,713.4L1770.8,713.1L1786.7,820.2L1776.8,819.8Z" fill="#000000"/><path d="M1767.1,713.2L1776.9,712.9L1792.8,820.5L1783.0,820.1Z" fill="#000000"/><path d="M1773.2,713.0L1783.1,712.6L1799.0,820.9L1789.1,820.3Z" fill="#000000"/><path d="M1779.4,712.8L1789.2,712.4L1805.1,821.2L1795.3,820.7Z" fill="#000000"/><path d="M1785.5,712.5L1795.4,712.1L1811.3,821.6L1801.5,821.0Z" fill="#000000"/><path d="M1791.7,712.3L1801.5,711.8L1817.5,822.0L1807.6,821.4Z" fill="#000000"/><path d="M1797.8,712.0L1807.7,711.6L1823.6,822.4L1813.8,821.8Z" fill="#000000"/><path d="M1804.0,711.7L1813.8,711.3L1829.8,822.8L1819.9,822.2Z" fill="#000000"/><path d="M1810.1,711.5L1819.9,711.0L1835.9,823.2L1826.1,822.6Z" fill="#000000"/><path d="M1816.3,711.2L1822.4,710.9L1838.4,823.4L1832.2,823.0Z" fill="#000000"/></g>
<g clip-path="url(#clipTop)"><g><path d="M104.4,1041.0L111.6,1034.9L380.6,1288.8L372.9,1295.0Z" fill="#6c4eff"/><path d="M108.9,1037.2L116.1,1031.1L385.4,1285.0L377.7,1291.1Z" fill="#6c4fff"/><path d="M113.4,1033.4L120.6,1027.3L390.2,1281.1L382.5,1287.3Z" fill="#6b50ff"/><path d="M117.9,1029.6L125.2,1023.5L395.0,1277.3L387.3,1283.4Z" fill="#6b51ff"/><path d="M122.5,1025.8L129.7,1019.8L399.7,1273.4L392.1,1279.6Z" fill="#6b52ff"/><path d="M127.0,1022.0L134.2,1016.0L404.5,1269.6L396.9,1275.7Z" fill="#6b53ff"/><path d="M131.5,1018.2L138.7,1012.2L409.3,1265.7L401.7,1271.9Z" fill="#6a54ff"/><path d="M136.0,1014.5L143.3,1008.4L414.1,1261.9L406.5,1268.0Z" fill="#6a55ff"/><path d="M140.6,1010.7L147.8,1004.7L418.9,1258.0L411.3,1264.2Z" fill="#6958ff"/><path d="M145.1,1006.9L152.4,1001.0L423.7,1254.2L416.1,1260.3Z" fill="#685bff"/><path d="M149.7,1003.2L157.0,997.3L428.5,1250.3L420.9,1256.5Z" fill="#675fff"/><path d="M154.2,999.5L161.6,993.6L433.3,1246.5L425.7,1252.6Z" fill="#6662ff"/><path d="M158.8,995.8L166.2,989.9L438.1,1242.6L430.5,1248.8Z" fill="#6566ff"/><path d="M163.4,992.1L170.8,986.2L443.0,1238.8L435.3,1245.0Z" fill="#646bff"/><path d="M168.0,988.4L175.4,982.6L447.8,1235.0L440.1,1241.1Z" fill="#6370ff"/><path d="M172.7,984.8L180.1,978.9L452.6,1231.1L444.9,1237.3Z" fill="#6275ff"/><path d="M177.3,981.1L184.7,975.3L457.4,1227.3L449.7,1233.4Z" fill="#617aff"/><path d="M181.9,977.5L189.4,971.7L462.2,1223.5L454.5,1229.6Z" fill="#617fff"/><path d="M186.6,973.8L194.0,968.1L467.0,1219.7L459.3,1225.8Z" fill="#6085ff"/><path d="M191.2,970.2L198.7,964.5L471.8,1215.8L464.1,1221.9Z" fill="#5e8bfe"/><path d="M195.9,966.6L203.4,960.9L476.7,1212.0L468.9,1218.1Z" fill="#5b93fd"/><path d="M200.6,963.0L208.1,957.3L481.5,1208.2L473.8,1214.3Z" fill="#589bfb"/><path d="M205.3,959.5L212.8,953.8L486.3,1204.4L478.6,1210.5Z" fill="#54a3f9"/><path d="M210.0,955.9L217.5,950.2L491.2,1200.6L483.4,1206.7Z" fill="#4ea9f6"/><path d="M214.7,952.3L222.2,946.7L496.0,1196.8L488.3,1202.9Z" fill="#49aff2"/><path d="M219.4,948.8L226.8,943.3L500.9,1193.1L493.1,1199.1Z" fill="#44b4ee"/><path d="M224.1,945.3L231.3,940.0L505.7,1189.3L498.0,1195.3Z" fill="#44b7eb"/><path d="M228.6,942.0L235.8,936.7L510.6,1185.5L502.8,1191.6Z" fill="#45b8e8"/><path d="M233.1,938.7L240.3,933.4L515.5,1181.8L507.7,1187.8Z" fill="#46bae4"/><path d="M237.6,935.4L244.8,930.1L520.3,1178.0L512.6,1184.0Z" fill="#47bce1"/><path d="M242.1,932.1L249.4,926.8L525.2,1174.3L517.4,1180.3Z" fill="#48bede"/><path d="M246.6,928.8L253.9,923.6L530.1,1170.5L522.3,1176.5Z" fill="#49c0da"/><path d="M251.2,925.5L258.4,920.3L535.0,1166.8L527.2,1172.8Z" fill="#4ac1d7"/><path d="M255.7,922.3L263.0,917.1L539.9,1163.1L532.1,1169.0Z" fill="#4bc3d4"/><path d="M260.2,919.0L267.5,913.9L544.8,1159.4L537.0,1165.3Z" fill="#4ec5cf"/><path d="M264.8,915.8L272.1,910.6L549.7,1155.7L541.9,1161.6Z" fill="#51c6c8"/><path d="M269.3,912.6L276.7,907.4L554.6,1152.0L546.8,1157.9Z" fill="#54c7c2"/><path d="M273.9,909.4L281.2,904.2L559.6,1148.3L551.7,1154.2Z" fill="#58c8bb"/><path d="M278.5,906.2L285.8,901.1L564.5,1144.6L556.6,1150.5Z" fill="#5bc9b5"/><path d="M283.1,903.0L290.4,897.9L569.5,1141.0L561.5,1146.8Z" fill="#5fcaaf"/><path d="M287.7,899.8L295.0,894.7L574.4,1137.3L566.5,1143.2Z" fill="#62cba8"/><path d="M292.3,896.6L299.6,891.6L579.4,1133.7L571.4,1139.5Z" fill="#65cca1"/><path d="M296.9,893.5L304.2,888.5L584.3,1130.1L576.4,1135.9Z" fill="#69cd99"/><path d="M301.5,890.3L308.9,885.3L589.3,1126.5L581.4,1132.2Z" fill="#6cce92"/><path d="M306.1,887.2L313.5,882.2L594.3,1122.9L586.3,1128.6Z" fill="#70ce8b"/><path d="M310.7,884.1L318.1,879.1L599.3,1119.3L591.3,1125.0Z" fill="#73cf84"/><path d="M315.3,881.0L322.8,876.0L604.3,1115.7L596.3,1121.4Z" fill="#77d07c"/><path d="M320.0,877.9L327.4,872.9L609.3,1112.1L601.3,1117.8Z" fill="#7ad175"/><path d="M324.6,874.8L332.1,869.9L614.4,1108.6L606.3,1114.3Z" fill="#7ed26e"/><path d="M329.3,871.7L336.8,866.8L619.4,1105.1L611.3,1110.7Z" fill="#81d366"/><path d="M334.0,868.7L341.5,863.8L624.4,1101.5L616.4,1107.2Z" fill="#85d45f"/><path d="M338.6,865.6L346.1,860.8L629.5,1098.0L621.4,1103.6Z" fill="#89d55a"/><path d="M343.3,862.6L350.9,857.8L634.5,1094.5L626.4,1100.1Z" fill="#8ed557"/><path d="M348.0,859.6L355.6,854.8L639.6,1091.0L631.5,1096.6Z" fill="#92d654"/><path d="M352.7,856.6L360.3,851.8L644.7,1087.5L636.6,1093.1Z" fill="#97d751"/><path d="M357.4,853.6L365.0,848.8L649.8,1084.1L641.6,1089.6Z" fill="#9cd84e"/><path d="M362.2,850.6L369.7,845.9L654.8,1080.6L646.7,1086.2Z" fill="#a1d94a"/><path d="M366.9,847.7L374.5,842.9L659.9,1077.2L651.8,1082.7Z" fill="#a6da47"/><path d="M371.6,844.7L379.2,840.0L665.1,1073.8L656.9,1079.3Z" fill="#aadb44"/><path d="M376.4,841.8L384.0,837.1L670.2,1070.4L662.0,1075.8Z" fill="#afdc41"/><path d="M381.1,838.9L388.8,834.2L675.3,1067.0L667.1,1072.4Z" fill="#b4dd3e"/><path d="M385.9,835.9L393.5,831.3L680.4,1063.6L672.2,1069.0Z" fill="#b9de3b"/><path d="M390.7,833.0L398.3,828.4L685.6,1060.2L677.4,1065.6Z" fill="#bede37"/><path d="M395.4,830.1L403.1,825.5L690.7,1056.8L682.5,1062.2Z" fill="#c2df34"/><path d="M400.2,827.3L407.9,822.7L695.9,1053.5L687.6,1058.9Z" fill="#c7e032"/><path d="M405.0,824.4L412.7,819.8L701.1,1050.2L692.8,1055.5Z" fill="#cbe130"/><path d="M409.8,821.5L417.5,817.0L706.2,1046.8L698.0,1052.2Z" fill="#cfe12f"/><path d="M414.6,818.7L422.3,814.1L711.4,1043.5L703.1,1048.8Z" fill="#d3e22d"/><path d="M419.4,815.8L427.1,811.3L716.6,1040.2L708.3,1045.5Z" fill="#d7e32c"/><path d="M424.2,813.0L431.9,808.5L721.8,1037.0L713.5,1042.2Z" fill="#dbe32a"/><path d="M429.0,810.2L436.8,805.7L727.0,1033.7L718.7,1038.9Z" fill="#e0e429"/><path d="M433.9,807.4L441.6,802.9L732.3,1030.4L723.9,1035.7Z" fill="#e4e427"/><path d="M438.7,804.6L446.4,800.2L737.5,1027.2L729.1,1032.4Z" fill="#e8e526"/><path d="M443.5,801.8L451.3,797.4L742.7,1024.0L734.4,1029.1Z" fill="#ece624"/><path d="M448.4,799.1L456.0,794.7L748.0,1020.8L739.6,1025.9Z" fill="#efe623"/><path d="M453.2,796.3L460.4,792.3L753.2,1017.6L744.8,1022.7Z" fill="#f1e424"/><path d="M457.8,793.8L464.7,789.9L758.5,1014.4L750.1,1019.5Z" fill="#f3e226"/><path d="M462.1,791.4L469.0,787.5L763.8,1011.2L755.3,1016.3Z" fill="#f4e027"/><path d="M466.4,789.0L473.3,785.1L769.0,1008.0L760.6,1013.1Z" fill="#f6de28"/><path d="M470.7,786.6L477.6,782.8L774.3,1004.9L765.9,1009.9Z" fill="#f7dc29"/><path d="M475.0,784.2L482.0,780.4L779.6,1001.8L771.2,1006.8Z" fill="#f9da2b"/><path d="M479.4,781.8L486.3,778.0L784.9,998.7L776.4,1003.7Z" fill="#fbd82c"/><path d="M483.7,779.5L490.7,775.7L790.3,995.6L781.8,1000.5Z" fill="#fcd62d"/><path d="M488.0,777.1L495.0,773.4L795.6,992.5L787.1,997.4Z" fill="#fed42e"/><path d="M492.4,774.8L499.4,771.1L800.9,989.4L792.4,994.4Z" fill="#ffd231"/><path d="M496.8,772.5L503.7,768.8L806.3,986.4L797.7,991.3Z" fill="#ffcf35"/><path d="M501.1,770.1L508.1,766.5L811.6,983.4L803.0,988.2Z" fill="#ffcd3a"/><path d="M505.5,767.9L512.5,764.2L817.0,980.3L808.4,985.2Z" fill="#ffca3f"/><path d="M509.9,765.6L516.9,761.9L822.3,977.3L813.7,982.1Z" fill="#ffc843"/><path d="M514.2,763.3L521.3,759.7L827.7,974.3L819.1,979.1Z" fill="#ffc548"/><path d="M518.6,761.0L525.7,757.4L833.1,971.4L824.5,976.1Z" fill="#ffc34d"/><path d="M523.0,758.8L530.1,755.2L838.5,968.4L829.9,973.1Z" fill="#ffc051"/><path d="M527.4,756.5L534.5,752.9L843.9,965.4L835.2,970.2Z" fill="#ffbd56"/><path d="M531.8,754.3L538.9,750.7L849.3,962.5L840.6,967.2Z" fill="#ffbb5a"/><path d="M536.2,752.1L543.3,748.5L854.7,959.6L846.0,964.3Z" fill="#ffb85f"/><path d="M540.6,749.8L548.4,745.9L860.1,956.7L851.4,961.3Z" fill="#ffb664"/><path d="M545.0,747.6L554.5,742.9L865.5,953.8L856.9,958.4Z" fill="#ffb264"/><path d="M550.8,744.7L560.6,739.9L871.0,950.9L862.3,955.5Z" fill="#ffad62"/><path d="M556.9,741.7L566.7,736.9L876.4,948.0L867.7,952.6Z" fill="#ffa860"/><path d="M563.0,738.7L572.8,733.9L881.9,945.2L873.1,949.7Z" fill="#ffa45e"/><path d="M569.1,735.7L579.0,731.0L887.3,942.3L878.6,946.9Z" fill="#ff9f5c"/><path d="M575.3,732.7L585.1,728.0L892.8,939.5L884.0,944.0Z" fill="#ff9a5a"/><path d="M581.4,729.8L591.3,725.1L898.2,936.7L889.5,941.2Z" fill="#ff9658"/><path d="M587.6,726.9L597.5,722.2L903.7,933.9L895.0,938.3Z" fill="#ff9156"/><path d="M593.8,724.0L603.7,719.4L909.2,931.1L900.4,935.5Z" fill="#ff8c54"/><path d="M599.9,721.1L609.8,716.5L914.7,928.3L905.9,932.7Z" fill="#ff8852"/><path d="M606.1,718.2L616.1,713.7L920.2,925.5L911.4,930.0Z" fill="#ff824f"/><path d="M612.3,715.4L622.3,710.9L925.7,922.8L916.9,927.2Z" fill="#ff7b4a"/><path d="M618.5,712.6L628.5,708.2L931.2,920.1L922.4,924.4Z" fill="#ff7346"/><path d="M624.8,709.8L634.7,705.4L936.7,917.4L927.9,921.7Z" fill="#ff6c41"/><path d="M631.0,707.1L641.0,702.7L942.2,914.7L933.4,919.0Z" fill="#ff643c"/><path d="M637.2,704.3L647.3,700.0L947.8,912.0L938.9,916.3Z" fill="#ff5d37"/><path d="M643.5,701.6L653.5,697.3L953.3,909.3L944.5,913.6Z" fill="#ff5533"/><path d="M649.8,698.9L659.8,694.7L958.9,906.7L950.0,910.9Z" fill="#ff4e2e"/><path d="M656.0,696.3L666.1,692.0L964.4,904.0L955.5,908.3Z" fill="#ff4629"/><path d="M662.3,693.6L672.4,689.4L970.0,901.4L961.1,905.6Z" fill="#ff4026"/><path d="M668.6,691.0L678.7,686.8L975.6,898.8L966.7,903.0Z" fill="#fe3a23"/><path d="M674.9,688.4L685.0,684.3L981.1,896.2L972.2,900.3Z" fill="#fe3421"/><path d="M681.2,685.8L691.3,681.7L986.7,893.6L977.8,897.7Z" fill="#fd2e1e"/><path d="M687.5,683.2L697.7,679.2L992.3,891.0L983.4,895.1Z" fill="#fd281c"/><path d="M693.9,680.7L704.0,676.7L997.9,888.4L988.9,892.5Z" fill="#fc2219"/><path d="M700.2,678.2L709.9,674.3L1003.5,885.9L994.5,890.0Z" fill="#fc1c16"/><path d="M706.5,675.7L715.3,672.2L1009.1,883.3L1000.1,887.4Z" fill="#fb1614"/><path d="M712.1,673.5L720.7,670.2L1014.7,880.8L1005.7,884.8Z" fill="#fa1212"/><path d="M717.5,671.4L726.1,668.1L1020.3,878.3L1011.3,882.3Z" fill="#f91111"/><path d="M722.9,669.3L731.5,666.1L1025.9,875.7L1016.9,879.8Z" fill="#f71111"/><path d="M728.3,667.3L736.9,664.0L1031.5,873.3L1022.5,877.2Z" fill="#f61010"/><path d="M733.7,665.2L742.3,662.0L1037.2,870.8L1028.2,874.7Z" fill="#f40f0f"/><path d="M739.1,663.2L747.7,660.0L1042.8,868.3L1033.8,872.3Z" fill="#f20f0f"/><path d="M744.5,661.2L753.2,658.1L1048.4,865.9L1039.4,869.8Z" fill="#f10e0e"/><path d="M749.9,659.3L758.6,656.1L1054.1,863.4L1045.0,867.3Z" fill="#ef0e0e"/><path d="M755.3,657.3L764.0,654.2L1059.7,861.0L1050.7,864.9Z" fill="#ed0d0d"/><path d="M760.8,655.3L769.5,652.3L1065.4,858.6L1056.3,862.5Z" fill="#ec0c0c"/><path d="M766.2,653.4L774.9,650.4L1071.1,856.2L1062.0,860.0Z" fill="#ea0c0c"/><path d="M771.6,651.5L780.4,648.5L1076.7,853.8L1067.7,857.6Z" fill="#e80b0b"/><path d="M777.1,649.6L785.8,646.6L1082.4,851.5L1073.3,855.3Z" fill="#e70b0b"/><path d="M782.5,647.7L791.3,644.7L1088.1,849.1L1079.0,852.9Z" fill="#e50a0a"/><path d="M788.0,645.8L796.7,642.9L1093.8,846.8L1084.7,850.5Z" fill="#e40909"/><path d="M793.5,644.0L802.2,641.1L1099.5,844.5L1090.4,848.2Z" fill="#e20909"/><path d="M798.9,642.1L807.7,639.2L1105.2,842.2L1096.1,845.9Z" fill="#e00808"/><path d="M804.4,640.3L813.2,637.5L1110.9,839.9L1101.8,843.6Z" fill="#dd0808"/><path d="M809.9,638.5L818.7,635.7L1116.6,837.7L1107.5,841.3Z" fill="#da0707"/><path d="M815.4,636.7L824.2,634.0L1122.4,835.4L1113.2,839.0Z" fill="#d70606"/><path d="M820.9,635.0L829.7,632.2L1128.1,833.2L1118.9,836.8Z" fill="#d40606"/><path d="M826.4,633.3L835.2,630.5L1133.8,830.9L1124.7,834.5Z" fill="#d10505"/><path d="M831.9,631.5L840.7,628.9L1139.6,828.7L1130.4,832.3Z" fill="#ce0505"/><path d="M837.4,629.9L846.3,627.2L1145.3,826.5L1136.1,830.0Z" fill="#ca0404"/><path d="M842.9,628.2L851.8,625.5L1151.1,824.3L1141.9,827.8Z" fill="#c70404"/><path d="M848.5,626.5L857.3,623.9L1156.8,822.1L1147.6,825.6Z" fill="#c40303"/><path d="M854.0,624.9L862.9,622.3L1162.6,820.0L1153.4,823.4Z" fill="#c10202"/><path d="M859.5,623.3L868.4,620.7L1168.3,817.8L1159.1,821.3Z" fill="#be0202"/><path d="M865.1,621.7L874.0,619.1L1174.1,815.7L1164.9,819.1Z" fill="#bb0101"/><path d="M870.6,620.1L879.9,617.4L1179.9,813.6L1170.6,817.0Z" fill="#b80101"/><path d="M876.2,618.5L887.7,615.3L1185.7,811.5L1176.4,814.9Z" fill="#b40000"/><path d="M883.0,616.6L895.4,613.2L1191.5,809.5L1182.2,812.8Z" fill="#b00000"/><path d="M890.8,614.4L903.1,611.1L1197.3,807.4L1188.0,810.7Z" fill="#ac0000"/><path d="M898.5,612.4L910.9,609.1L1203.1,805.4L1193.8,808.6Z" fill="#a80000"/><path d="M906.2,610.3L918.7,607.1L1208.9,803.4L1199.6,806.6Z" fill="#a40000"/><path d="M914.0,608.3L926.4,605.2L1214.7,801.4L1205.4,804.6Z" fill="#a00000"/><path d="M921.8,606.3L934.2,603.3L1220.5,799.4L1211.2,802.6Z" fill="#9c0000"/><path d="M929.6,604.4L942.0,601.4L1226.4,797.4L1217.0,800.6Z" fill="#970000"/><path d="M937.3,602.5L949.8,599.6L1232.2,795.5L1222.9,798.6Z" fill="#930000"/><path d="M945.1,600.7L957.6,597.8L1238.0,793.6L1228.7,796.7Z" fill="#8f0000"/><path d="M952.9,598.9L965.5,596.0L1243.9,791.7L1234.5,794.7Z" fill="#8b0000"/><path d="M960.8,597.1L973.3,594.3L1249.7,789.8L1240.4,792.8Z" fill="#870000"/><path d="M968.6,595.3L981.1,592.6L1255.6,787.9L1246.2,790.9Z" fill="#830000"/><path d="M976.4,593.6L988.8,591.0L1261.5,786.0L1252.1,789.0Z" fill="#7e0000"/><path d="M984.3,592.0L995.5,589.6L1267.3,784.2L1257.9,787.1Z" fill="#7a0000"/><path d="M991.5,590.5L1002.2,588.3L1273.2,782.4L1263.8,785.3Z" fill="#760000"/><path d="M998.2,589.1L1009.0,587.0L1279.1,780.6L1269.7,783.5Z" fill="#720000"/><path d="M1004.9,587.8L1015.7,585.7L1285.0,778.8L1275.6,781.7Z" fill="#6e0000"/><path d="M1011.7,586.4L1022.4,584.4L1290.9,777.0L1281.4,779.9Z" fill="#6a0000"/><path d="M1018.4,585.1L1029.2,583.1L1296.8,775.3L1287.3,778.1Z" fill="#670000"/><path d="M1025.1,583.9L1035.9,581.9L1302.7,773.5L1293.2,776.3Z" fill="#640000"/><path d="M1031.9,582.6L1042.7,580.7L1308.6,771.8L1299.1,774.6Z" fill="#620101"/><path d="M1038.6,581.4L1049.4,579.5L1314.5,770.1L1305.0,772.8Z" fill="#5f0101"/><path d="M1045.4,580.2L1056.2,578.4L1320.4,768.5L1310.9,771.2Z" fill="#5c0101"/><path d="M1052.1,579.1L1063.0,577.3L1326.3,766.9L1316.9,769.5Z" fill="#590101"/><path d="M1058.9,578.0L1069.7,576.2L1332.3,765.3L1322.8,767.8Z" fill="#570202"/><path d="M1065.7,576.9L1076.5,575.2L1338.2,763.7L1328.7,766.2Z" fill="#540202"/><path d="M1072.5,575.8L1083.3,574.2L1344.2,762.1L1334.7,764.6Z" fill="#510202"/><path d="M1079.2,574.8L1090.3,573.2L1350.1,760.6L1340.6,763.0Z" fill="#4e0202"/><path d="M1086.0,573.8L1097.5,572.2L1356.1,759.1L1346.6,761.5Z" fill="#4c0303"/><path d="M1093.2,572.8L1104.6,571.2L1362.1,757.6L1352.5,760.0Z" fill="#490303"/><path d="M1100.3,571.8L1111.8,570.2L1368.0,756.1L1358.5,758.5Z" fill="#460303"/><path d="M1107.5,570.8L1118.9,569.3L1374.0,754.7L1364.5,757.0Z" fill="#430303"/><path d="M1114.6,569.9L1126.1,568.4L1380.0,753.3L1370.4,755.6Z" fill="#410303"/><path d="M1121.8,569.0L1133.2,567.6L1386.0,751.9L1376.4,754.1Z" fill="#3e0404"/><path d="M1128.9,568.1L1140.4,566.8L1392.0,750.5L1382.4,752.7Z" fill="#3b0404"/><path d="M1136.1,567.3L1147.6,566.0L1398.0,749.2L1388.4,751.3Z" fill="#390404"/><path d="M1143.3,566.5L1154.7,565.2L1404.0,747.9L1394.4,750.0Z" fill="#370404"/><path d="M1150.4,565.7L1161.9,564.5L1410.0,746.6L1400.4,748.7Z" fill="#350404"/><path d="M1157.6,564.9L1169.1,563.8L1416.1,745.3L1406.4,747.4Z" fill="#340404"/><path d="M1164.8,564.2L1176.3,563.1L1422.1,744.1L1412.4,746.1Z" fill="#320404"/><path d="M1172.0,563.5L1183.5,562.5L1428.1,742.9L1418.5,744.8Z" fill="#300404"/><path d="M1179.2,562.9L1190.7,561.9L1434.1,741.7L1424.5,743.6Z" fill="#2e0404"/><path d="M1186.3,562.3L1197.8,561.3L1440.2,740.6L1430.5,742.4Z" fill="#2d0404"/><path d="M1193.5,561.7L1203.0,561.0L1446.2,739.4L1436.6,741.2Z" fill="#2b0404"/><path d="M1199.9,561.2L1208.1,560.6L1452.3,738.3L1442.6,740.1Z" fill="#290404"/><path d="M1205.0,560.8L1213.2,560.2L1458.3,737.3L1448.7,739.0Z" fill="#270404"/><path d="M1210.1,560.4L1218.3,559.9L1464.4,736.2L1454.7,737.9Z" fill="#250404"/><path d="M1215.3,560.1L1223.5,559.6L1470.5,735.2L1460.8,736.8Z" fill="#240404"/><path d="M1220.4,559.7L1228.6,559.2L1476.5,734.2L1466.8,735.8Z" fill="#220404"/><path d="M1225.5,559.4L1233.7,558.9L1482.6,733.2L1472.9,734.8Z" fill="#200404"/><path d="M1230.7,559.1L1238.9,558.6L1488.7,732.3L1479.0,733.8Z" fill="#1e0404"/><path d="M1235.8,558.8L1244.0,558.4L1494.8,731.4L1485.0,732.9Z" fill="#1d0404"/><path d="M1240.9,558.5L1249.1,558.1L1500.9,730.5L1491.1,731.9Z" fill="#1b0404"/><path d="M1246.1,558.3L1254.3,557.9L1507.0,729.7L1497.2,731.0Z" fill="#1a0404"/><path d="M1251.2,558.0L1259.4,557.6L1513.1,728.8L1503.3,730.2Z" fill="#190404"/><path d="M1256.3,557.8L1264.5,557.4L1519.2,728.0L1509.4,729.3Z" fill="#180404"/><path d="M1261.5,557.5L1269.7,557.2L1525.3,727.3L1515.5,728.5Z" fill="#170404"/><path d="M1266.6,557.3L1274.8,557.0L1531.4,726.5L1521.6,727.7Z" fill="#160404"/><path d="M1271.7,557.1L1279.9,556.8L1537.5,725.8L1527.7,727.0Z" fill="#150404"/><path d="M1276.9,556.9L1285.1,556.6L1543.6,725.1L1533.8,726.2Z" fill="#140303"/><path d="M1282.0,556.7L1290.2,556.4L1549.7,724.4L1539.9,725.5Z" fill="#130303"/><path d="M1287.1,556.5L1295.4,556.3L1555.8,723.8L1546.0,724.8Z" fill="#120303"/><path d="M1292.3,556.4L1300.5,556.2L1561.9,723.2L1552.1,724.2Z" fill="#110303"/><path d="M1297.4,556.2L1305.6,556.0L1568.1,722.6L1558.3,723.5Z" fill="#100303"/><path d="M1302.5,556.1L1310.8,555.9L1574.2,722.0L1564.4,722.9Z" fill="#0f0303"/><path d="M1307.7,556.0L1315.9,555.9L1580.3,721.5L1570.5,722.3Z" fill="#0e0303"/><path d="M1312.8,555.9L1321.0,555.8L1586.4,720.9L1576.6,721.8Z" fill="#0d0303"/><path d="M1318.0,555.8L1326.2,555.7L1592.6,720.5L1582.8,721.3Z" fill="#0c0303"/><path d="M1323.1,555.8L1331.3,555.7L1598.7,720.0L1588.9,720.7Z" fill="#0c0303"/><path d="M1328.2,555.7L1332.9,555.7L1604.8,719.6L1595.0,720.3Z" fill="#0b0303"/><path d="M1332.0,555.7L1334.6,555.6L1611.0,719.1L1601.2,719.8Z" fill="#0b0303"/><path d="M1333.6,555.7L1336.2,555.6L1617.1,718.7L1607.3,719.4Z" fill="#0a0202"/><path d="M1335.2,555.6L1337.8,555.6L1623.3,718.4L1613.4,719.0Z" fill="#0a0202"/><path d="M1336.8,555.6L1339.4,555.6L1629.4,718.0L1619.6,718.6Z" fill="#090202"/><path d="M1338.5,555.6L1341.1,555.6L1635.5,717.6L1625.7,718.2Z" fill="#090202"/><path d="M1340.1,555.6L1342.7,555.6L1641.7,717.3L1631.8,717.8Z" fill="#080202"/><path d="M1341.7,555.6L1344.3,555.6L1647.8,717.0L1638.0,717.5Z" fill="#070202"/><path d="M1343.3,555.6L1345.9,555.6L1654.0,716.7L1644.1,717.2Z" fill="#070202"/><path d="M1345.0,555.6L1347.6,555.6L1660.1,716.5L1650.3,716.9Z" fill="#060202"/><path d="M1346.6,555.6L1349.2,555.6L1666.3,716.2L1656.4,716.6Z" fill="#060202"/><path d="M1348.2,555.6L1350.8,555.6L1672.4,715.9L1662.6,716.4Z" fill="#050202"/><path d="M1349.8,555.6L1352.4,555.6L1678.5,715.7L1668.7,716.1Z" fill="#050101"/><path d="M1351.4,555.6L1354.0,555.6L1684.7,715.5L1674.9,715.9Z" fill="#040101"/><path d="M1353.1,555.6L1355.7,555.6L1690.8,715.3L1681.0,715.6Z" fill="#030101"/><path d="M1354.7,555.6L1357.3,555.6L1697.0,715.1L1687.2,715.4Z" fill="#030101"/><path d="M1356.3,555.6L1358.9,555.6L1703.1,714.9L1693.3,715.2Z" fill="#020101"/><path d="M1357.9,555.6L1360.5,555.6L1709.3,714.8L1699.5,715.0Z" fill="#020101"/><path d="M1359.6,555.6L1362.2,555.6L1715.4,714.6L1705.6,714.9Z" fill="#020101"/><path d="M1361.2,555.6L1363.8,555.7L1721.6,714.4L1711.7,714.7Z" fill="#020101"/><path d="M1362.8,555.7L1365.4,555.7L1727.7,714.3L1717.9,714.5Z" fill="#020101"/><path d="M1364.4,555.7L1367.0,555.7L1733.9,714.1L1724.0,714.4Z" fill="#020101"/><path d="M1366.1,555.7L1368.7,555.7L1740.0,713.9L1730.2,714.2Z" fill="#010101"/><path d="M1367.7,555.7L1370.3,555.7L1746.2,713.8L1736.3,714.0Z" fill="#010101"/><path d="M1369.3,555.7L1371.9,555.7L1752.3,713.6L1742.5,713.9Z" fill="#010101"/><path d="M1370.9,555.7L1373.5,555.7L1758.5,713.5L1748.6,713.7Z" fill="#010101"/><path d="M1372.5,555.7L1375.1,555.8L1764.6,713.3L1754.8,713.6Z" fill="#010101"/><path d="M1374.2,555.7L1376.8,555.8L1770.8,713.1L1760.9,713.4Z" fill="#010000"/><path d="M1375.8,555.8L1378.4,555.8L1776.9,712.9L1767.1,713.2Z" fill="#010000"/><path d="M1377.4,555.8L1380.0,555.8L1783.1,712.6L1773.2,713.0Z" fill="#010000"/><path d="M1379.0,555.8L1381.6,555.8L1789.2,712.4L1779.4,712.8Z" fill="#010000"/><path d="M1380.7,555.8L1383.3,555.8L1795.4,712.1L1785.5,712.5Z" fill="#010000"/><path d="M1382.3,555.8L1384.9,555.9L1801.5,711.8L1791.7,712.3Z" fill="#000000"/><path d="M1383.9,555.8L1386.5,555.9L1807.7,711.6L1797.8,712.0Z" fill="#000000"/><path d="M1385.5,555.9L1388.1,555.9L1813.8,711.3L1804.0,711.7Z" fill="#000000"/><path d="M1387.2,555.9L1389.8,555.9L1819.9,711.0L1810.1,711.5Z" fill="#000000"/><path d="M1388.8,555.9L1390.4,555.9L1822.4,710.9L1816.3,711.2Z" fill="#000000"/></g>
<path d="M275.0,1138.2 L287.1,1128.3 L299.3,1118.5 L311.6,1108.8 L323.9,1099.1 L336.2,1089.4 L348.6,1079.8 L361.1,1070.3 L373.2,1061.1 L385.4,1052.0 L397.7,1042.9 L410.0,1033.8 L422.3,1024.9 L434.7,1016.0 L447.2,1007.2 L459.7,998.5 L472.3,989.9 L484.9,981.4 L497.6,972.9 L510.3,964.5 L523.1,956.3 L536.0,948.1 L548.9,939.9 L561.9,931.9 L574.9,924.0 L587.9,916.1 L601.1,908.3 L613.5,901.0 L626.0,893.8 L638.5,886.7" fill="none" stroke="#fff" stroke-opacity="0.26" stroke-width="70" stroke-linecap="round" filter="url(#blur18)"/>
<path d="M839.0,787.6 L854.5,781.0 L868.8,775.0 L883.1,769.1 L897.5,763.3 L911.9,757.6 L926.3,752.0 L940.8,746.5 L955.3,741.1 L969.9,735.9 L984.5,730.7 L999.2,725.7 L1013.8,720.8 L1028.6,716.0 L1046.1,710.5 L1063.8,705.2 L1081.5,700.2 L1099.2,695.3 L1117.0,690.6 L1133.9,686.3 L1150.3,682.2 L1166.8,678.3 L1183.2,674.6 L1199.7,671.0 L1216.3,667.6 L1233.3,664.4" fill="none" stroke="#ff2418" stroke-opacity="0.5" stroke-width="56" stroke-linecap="round" filter="url(#blur18)"/>
<path d="M388.0,1253.0 C399.3,1244.0 156.7,1017.4 168.5,1009.0 C180.3,1000.6 413.5,1233.2 424.5,1224.0 C435.5,1214.8 194.1,990.7 206.7,982.0 C219.3,973.3 448.3,1202.8 459.0,1193.5 C469.7,1184.2 235.6,961.6 249.7,952.6 C263.8,943.6 482.3,1173.1 493.5,1164.0 C504.7,1154.9 282.9,932.8 297.8,924.0 C312.7,915.2 519.6,1143.6 531.5,1134.5 C543.4,1125.4 330.9,904.4 345.8,895.6 C360.7,886.8 558.6,1114.6 570.5,1105.5 C582.4,1096.4 379.0,875.8 393.9,867.0 C408.8,858.2 596.3,1084.7 608.0,1076.0 C619.7,1067.3 427.0,847.4 441.9,838.6 C456.8,829.8 633.8,1058.2 646.0,1049.5 C658.2,1040.8 475.6,818.6 490.0,810.0 C504.4,801.4 673.0,1030.6 686.5,1020.0 C700.0,1009.4 518.0,793.1 535.0,783.3 C552.0,773.5 716.0,992.0 733.0,981.0 C750.0,970.0 581.1,757.0 600.0,746.7 C618.9,736.4 775.2,959.5 796.0,949.0 C816.8,938.5 636.6,725.2 656.7,716.7 C676.9,708.2 844.8,925.3 867.5,913.3 C890.2,901.3 708.3,699.5 730.0,691.7 C751.7,684.0 918.1,884.5 942.4,871.9 C966.7,859.3 776.0,674.2 796.7,666.7 C817.4,659.2 999.6,843.6 1024.5,831.7 C1049.4,819.8 841.1,650.8 863.3,643.3 C885.5,635.8 1076.8,805.2 1102.8,795.3 C1128.8,785.4 914.2,625.8 940.0,618.0 C965.8,610.2 1159.0,777.9 1192.0,768.0 C1225.0,758.1 998.8,599.7 1030.0,593.0 C1061.2,586.3 1273.5,741.2 1316.0,731.5 C1358.5,721.8 1106.8,578.9 1141.0,574.7 C1175.2,570.5 1419.2,712.2 1466.5,705.6 C1513.8,699.0 1217.0,567.6 1250.5,565.6 C1284.0,563.6 1573.1,693.9 1621.0,688.7 C1668.9,683.5 1324.0,563.1 1357.0,562.0" fill="none" stroke="#fff" stroke-opacity="0.28" stroke-width="3.4" stroke-linejoin="round" stroke-linecap="round"/>
</g>
<polygon points="1390.4,555.9 1822.4,710.9 1690,666.5 1389.2,559.6" fill="#2e2e2e"/>
<path d="M372.9,1295.0 C381.2,1288.3 406.2,1268.2 422.9,1254.9 C439.6,1241.5 456.2,1228.1 472.9,1215.0 C489.6,1201.9 506.2,1188.8 522.9,1176.1 C539.5,1163.3 556.1,1150.7 572.8,1138.5 C589.4,1126.3 606.1,1114.3 622.8,1102.7 C639.5,1091.0 656.1,1079.7 672.8,1068.6 C689.5,1057.6 706.1,1046.8 722.8,1036.4 C739.5,1025.9 756.1,1015.7 772.8,1005.8 C789.5,995.9 806.1,986.4 822.8,977.1 C839.5,967.7 856.1,958.7 872.8,949.9 C889.4,941.1 906.1,932.6 922.7,924.3 C939.4,916.0 956.0,908.0 972.7,900.1 C989.4,892.3 1006.0,884.6 1022.7,877.2 C1039.4,869.7 1056.0,862.5 1072.7,855.5 C1089.4,848.5 1106.0,841.8 1122.7,835.3 C1139.4,828.7 1156.0,822.3 1172.7,816.2 C1189.4,810.1 1206.0,804.3 1222.7,798.7 C1239.4,793.1 1256.1,787.7 1272.7,782.5 C1289.3,777.4 1305.9,772.5 1322.6,767.9 C1339.2,763.3 1355.9,759.0 1372.6,755.0 C1389.3,751.1 1405.9,747.4 1422.6,744.0 C1439.3,740.6 1455.9,737.6 1472.6,734.8 C1489.3,732.1 1505.9,729.7 1522.6,727.6 C1539.3,725.5 1555.9,723.7 1572.6,722.1 C1589.3,720.6 1605.9,719.4 1622.6,718.4 C1639.2,717.4 1655.8,716.6 1672.5,715.9 C1689.2,715.3 1705.8,714.9 1722.5,714.4 C1739.2,713.9 1755.8,713.6 1772.5,713.0 C1789.2,712.5 1814.1,711.3 1822.4,710.9" fill="none" stroke="#fff" stroke-width="1.1" stroke-opacity="0.95"/>
<path d="M104.4,1041 L372.9,1295 L391.2,1402.5" fill="none" stroke="#fff" stroke-width="1.1" stroke-opacity="0.9"/>
</g>
<circle cx="1489.1" cy="183.8" r="24.7" fill="#c9212b"/><path d="M1476.6,185.3 l7.6,8.2 l13.6,-19.8" fill="none" stroke="#fff" stroke-width="6.8" stroke-linejoin="miter" stroke-linecap="butt"/>
<circle cx="1489.1" cy="317.5" r="24.7" fill="#c9212b"/><path d="M1476.6,319.0 l7.6,8.2 l13.6,-19.8" fill="none" stroke="#fff" stroke-width="6.8" stroke-linejoin="miter" stroke-linecap="butt"/>
<circle cx="1489.1" cy="447.4" r="24.7" fill="#c9212b"/><path d="M1476.6,448.9 l7.6,8.2 l13.6,-19.8" fill="none" stroke="#fff" stroke-width="6.8" stroke-linejoin="miter" stroke-linecap="butt"/>

<g transform="matrix(1,0,-0.190,1,38.57,0)"><path id="tp1" d="M1525.5,203.0 C1542.3,207.0 1587.1,216.1 1626.6,227.0 C1666.1,237.9 1719.2,254.7 1762.5,268.7 C1805.8,282.7 1865.8,303.9 1886.5,311.0" fill="none"/><text font-size="25.8" font-weight="bold" letter-spacing="1.4" fill="#3f4658" stroke="#3f4658" stroke-width="2.2" stroke-linejoin="miter" textLength="387.0" lengthAdjust="spacingAndGlyphs"><textPath href="#tp1" textLength="387.0" lengthAdjust="spacingAndGlyphs">HIGH SENSITIVITY</textPath></text></g>
<g transform="matrix(1,0,-0.190,1,64.45,0)"><path id="tp2" d="M1528.0,339.2 C1544.4,343.9 1591.8,355.7 1626.3,367.6 C1660.8,379.5 1710.2,400.7 1735.1,410.7 C1759.9,420.7 1750.4,417.7 1775.4,427.5 C1800.3,437.3 1866.5,462.5 1884.8,469.5" fill="none"/><text font-size="25.8" font-weight="bold" letter-spacing="1.4" fill="#3f4658" stroke="#3f4658" stroke-width="2.2" stroke-linejoin="miter" textLength="386.0" lengthAdjust="spacingAndGlyphs"><textPath href="#tp2" textLength="386.0" lengthAdjust="spacingAndGlyphs">HIGH RELIABILITY</textPath></text></g>
<g transform="matrix(1,0,-0.190,1,89.91,0)"><path id="tp3" d="M1525.5,473.2 C1542.3,479.0 1594.6,494.8 1626.3,507.8 C1658.0,520.8 1691.6,539.2 1715.8,551.0 C1740.0,562.8 1752.8,568.9 1771.4,578.5 C1790.0,588.1 1806.9,597.2 1827.5,608.4 C1848.0,619.6 1883.5,639.3 1894.7,645.5" fill="none"/><text font-size="25.8" font-weight="bold" letter-spacing="1.4" fill="#3f4658" stroke="#3f4658" stroke-width="2.2" stroke-linejoin="miter" textLength="410.0" lengthAdjust="spacingAndGlyphs"><textPath href="#tp3" textLength="410.0" lengthAdjust="spacingAndGlyphs">HIGH RESOLUTION</textPath></text></g>
<text transform="translate(664.5,1150.2) rotate(-34.5) scale(1.180,1)" font-size="32.5" font-weight="bold" font-style="italic" fill="#fff" stroke="#fff" stroke-width="1.8" stroke-linejoin="round">VISIBLE</text>
<text transform="translate(1280.8,850.2) rotate(-15.0) scale(0.930,1)" font-size="37.6" font-weight="bold" font-style="italic" fill="#fff" stroke="#fff" stroke-width="3.0" stroke-linejoin="round">NIR</text>
<text transform="translate(1707.5,781.3) skewX(-11) scale(1.36,1)" font-size="35" font-weight="bold" letter-spacing="1.5" fill="#fff" stroke="#fff" stroke-width="2.4">IR</text>

<g id="missile" transform="translate(402.4,151.8) rotate(-23.3)">
<polygon points="154.4,-48.4 165.2,-49 153.6,-11.8 139.1,-12.8" fill="url(#mFinV)"/>
<polygon points="-39,-35.9 -32.8,-36.2 -39.6,-13.3 -48.6,-13.6" fill="url(#mFinV)"/>
<!-- nozzle -->
<rect x="194" y="-9.6" width="8" height="21.2" rx="2" fill="#e4e4e6"/>
<rect x="194" y="2" width="8" height="9.6" rx="2" fill="#bdbdc0"/>
<rect x="181.5" y="-14.6" width="14" height="29.4" fill="url(#mDark)"/>
<!-- tail light section -->
<rect x="160" y="-15.6" width="22" height="31.2" fill="url(#mBody)"/>
<rect x="163.2" y="-15.6" width="3.4" height="31.2" fill="#5a5a5c" opacity="0.9"/>
<rect x="169.2" y="-15.6" width="3.4" height="31.2" fill="#5a5a5c" opacity="0.9"/>
<!-- mid section -->
<rect x="0" y="-15.8" width="160.6" height="31.6" fill="url(#mBody2)"/>
<rect x="9" y="-9.2" width="122" height="19.6" rx="2.2" fill="#b4b4b7" fill-opacity="0.45" stroke="#f4f4f6" stroke-width="0.9"/>
<circle cx="12" cy="-6.4" r="0.9" fill="#8e8e91"/><circle cx="12" cy="7.6" r="0.9" fill="#8e8e91"/><circle cx="128" cy="-6.4" r="0.9" fill="#8e8e91"/><circle cx="128" cy="7.6" r="0.9" fill="#8e8e91"/>
<!-- collar -->
<rect x="-9" y="-13.6" width="11" height="27.8" fill="url(#mDark)" opacity="0.55"/>
<rect x="-9" y="-13.6" width="11" height="27.8" fill="#bcbcbf" opacity="0.5"/>
<!-- front section -->
<rect x="-86" y="-15.6" width="78" height="31.2" fill="url(#mBody)"/>
<rect x="-82" y="-15.6" width="2.8" height="31.2" fill="#5a5a5c" opacity="0.9"/>
<rect x="-76.6" y="-15.6" width="2.8" height="31.2" fill="#5a5a5c" opacity="0.9"/>
<!-- red nose -->
<path d="M-85.4,-15.8 A16.5,15.8 0 0 0 -85.4,15.8 Z" fill="url(#mRed)"/>
<!-- lower fins -->
<polygon points="139.5,12.9 154.8,9.8 163.7,50.5 154.2,50" fill="url(#mFin)"/>
<polygon points="-48.7,10.9 -39.3,9.7 -33.5,35 -39.7,35" fill="url(#mFin)"/>
</g>
<g id="drone" transform="translate(970,60) scale(0.17188)">
<!-- far v-tail fin -->
<polygon points="395,135 485,135 522,312 365,312" fill="#e9e9e5"/>
<polygon points="390,170 492,170 496,195 386,195" fill="#2b303b"/>
<!-- engine nacelle -->
<path d="M420,340 Q425,312 470,314 L560,320 Q590,325 585,372 L430,372 Z" fill="#e3e3df"/>
<path d="M520,318 Q585,320 585,372 L540,372 Z" fill="#d2d2ce"/>
<!-- sat antenna -->
<polygon points="1160,296 1196,296 1236,356 1196,358" fill="#c9c9c7"/>
<ellipse cx="1152" cy="285" rx="60" ry="12" fill="#e7e7e3" transform="rotate(-4 1152 285)"/>
<!-- spinner -->
<path d="M185,372 Q110,380 108,412 Q112,440 185,448 Z" fill="#a9a9a7"/>
<!-- fuselage -->
<path d="M172,395 Q172,366 215,364 L600,372 L1000,368 L1250,355 Q1370,345 1450,318 Q1560,290 1660,312 Q1750,338 1838,438 Q1800,478 1700,494 L1400,502 L1100,492 L1030,470 L640,486 L300,474 Q180,460 172,430 Z" fill="url(#dFus)"/>
<path d="M1030,462 Q1400,440 1836,440 Q1800,478 1700,494 L1400,502 L1100,492 Z" fill="#bdbdbb"/>
<path d="M1100,478 Q1450,462 1800,470 Q1760,488 1700,494 L1400,502 L1110,492 Z" fill="#cdcdca"/>
<!-- under things -->
<rect x="1365" y="498" width="26" height="34" fill="#c2c2c0"/>
<ellipse cx="1378" cy="538" rx="34" ry="11" fill="#dcdcd8"/>
<rect x="1468" y="500" width="98" height="18" rx="8" fill="#d0d0cd"/>
<path d="M1632,500 L1735,505 Q1740,560 1685,560 Q1640,556 1632,500 Z" fill="#dbdbd7"/>
<rect x="1725" y="520" width="28" height="16" rx="6" fill="#d0d0cd"/>
<!-- big v-tail fin -->
<polygon points="55,112 165,112 490,394 470,404 282,398" fill="url(#dFin)"/>
<polygon points="90,158 213,158 245,190 116,190" fill="#2b303b"/>
<!-- far missile -->
<rect x="1020" y="508" width="150" height="33" rx="14" fill="#3d4250"/>
<!-- pylon -->
<polygon points="678,500 790,520 790,598 712,602" fill="#e6e6e2"/>
<polygon points="678,500 760,515 740,600 712,602" fill="#d8d8d4"/>
<!-- near missile -->
<path d="M780,520 L1028,520 Q1042,543 1028,566 L780,566 Z" fill="url(#dMis)"/>
<!-- wing down part -->
<polygon points="335,512 520,500 470,664 320,668" fill="url(#dWingD)"/>
<!-- wing -->
<path d="M520,502 L1000,446 L1020,470 L700,500 Z" fill="#c6c6c2"/><path d="M290,505 L960,415 Q1030,418 1036,432 L1000,462 L960,450 L700,490 L330,514 Z" fill="#f4f4f1"/>
<path d="M960,452 L1000,470 L1036,432 Q1000,440 960,452 Z" fill="#d6d6d2"/>
</g>
<g id="binoc" transform="translate(570,185) scale(0.14785)">
<!-- rods -->
<polygon points="163,515 182,515 213,1285 194,1285" fill="#585858"/>
<polygon points="945,540 968,540 966,990 943,990" fill="#686868"/>
<!-- top knobs -->
<g fill="url(#bKnob)"><circle cx="395" cy="150" r="33"/><circle cx="518" cy="146" r="35"/><circle cx="632" cy="134" r="38"/><rect x="433" y="112" width="48" height="70"/><rect x="560" y="106" width="52" height="70"/><rect x="362" y="150" width="308" height="40"/></g>
<!-- body -->
<path d="M230,185 L850,158 L850,500 L205,548 Q118,470 120,360 Q122,235 230,185 Z" fill="url(#bBody)"/>
<rect x="108" y="246" width="124" height="50" rx="12" fill="#7c7c7c"/>
<ellipse cx="217" cy="270" rx="17" ry="22" fill="#3b6cad" stroke="#555" stroke-width="3"/>
<g stroke-linecap="round" fill="none"><path d="M248,232 L665,206" stroke="#5a5a5a" stroke-width="16"/><path d="M248,238 L665,212" stroke="#bcbcbc" stroke-width="8"/>
<path d="M218,352 L650,326" stroke="#5a5a5a" stroke-width="16"/><path d="M218,358 L650,332" stroke="#bcbcbc" stroke-width="8"/>
<path d="M236,436 L636,404" stroke="#5a5a5a" stroke-width="16"/><path d="M236,442 L636,410" stroke="#bcbcbc" stroke-width="8"/></g>
<!-- shadow under -->
<polygon points="205,546 830,498 1250,512 1010,548 812,568 380,557" fill="#000"/>
<!-- face -->
<path d="M850,158 L1235,183 Q1330,215 1322,345 Q1318,470 1245,512 L832,500 Q785,420 790,330 Q795,225 850,158 Z" fill="#c4c4c4" stroke="#777" stroke-width="3"/>
<ellipse cx="905" cy="252" rx="62" ry="84" fill="#c9c9c9" stroke="#999" stroke-width="3"/>
<ellipse cx="912" cy="252" rx="44" ry="68" fill="#4a4a4a"/>
<ellipse cx="903" cy="252" rx="38" ry="64" fill="#3b6cad"/>
<ellipse cx="1052" cy="322" rx="102" ry="128" fill="#c9c9c9" stroke="#999" stroke-width="3"/>
<ellipse cx="1064" cy="322" rx="66" ry="104" fill="#454545"/>
<ellipse cx="1048" cy="322" rx="56" ry="96" fill="#3b6cad"/>
<ellipse cx="1255" cy="340" rx="68" ry="86" fill="#a8a8a8" stroke="#777" stroke-width="3"/>
<ellipse cx="1262" cy="340" rx="52" ry="72" fill="#c6c6c6" stroke="#999" stroke-width="2"/>
<circle cx="1268" cy="342" r="15" fill="#000"/>
<!-- mount -->
<path d="M385,556 L815,566 L775,582 L775,700 L705,700 L700,690 L625,690 L615,612 L520,628 Z" fill="url(#bMount)"/>
<path d="M498,626 L535,632 L540,690 L505,700 L494,682 L520,668 Z" fill="#6e6e6e"/>
<polygon points="775,580 846,586 858,716 775,716" fill="#cacaca" stroke="#888" stroke-width="2"/>
<polygon points="775,716 858,716 812,800 712,818 706,800" fill="#a6a6a6" stroke="#777" stroke-width="2"/>
<!-- tripod head -->
<rect x="448" y="960" width="308" height="325" fill="#3a3a3a"/>
<rect x="740" y="975" width="50" height="40" fill="#3a3a3a"/>
<path d="M480,770 L700,758 L730,775 L760,800 L760,965 L420,975 Q330,965 300,930 Q280,890 310,855 Q335,800 400,780 Z" fill="#5b5b5b"/>
<rect x="478" y="758" width="225" height="20" fill="#707070"/>
<path d="M760,800 Q800,790 828,800 L828,965 Q790,970 760,962 Z" fill="url(#bCyl)"/>
<ellipse cx="826" cy="882" rx="52" ry="88" fill="#fff" stroke="#555" stroke-width="3"/>
<ellipse cx="822" cy="882" rx="41" ry="74" fill="#000"/>
<polygon points="400,1040 470,1040 450,1098 415,1090" fill="#555"/>
<circle cx="440" cy="962" r="82" fill="#8b8b8b"/>
<circle cx="520" cy="1098" r="57" fill="#9a9a9a"/>
<!-- handle blob -->
<path d="M1070,940 Q1150,935 1165,1010 Q1160,1080 1110,1150 Q1060,1250 990,1325 Q900,1360 830,1325 Q765,1280 758,1195 Q775,1100 880,1030 Q980,965 1070,940 Z" fill="#565656"/>
</g>
<g id="targeticon" transform="translate(860,210) scale(0.17188)">
<circle cx="320" cy="305" r="233" fill="#000"/>
<circle cx="320" cy="305" r="208" fill="none" stroke="#4d5364" stroke-width="9"/>
<circle cx="320" cy="305" r="174" fill="#c3c3c7" stroke="#5a6070" stroke-width="6"/>
<g fill="none" stroke="#000" stroke-width="4"><circle cx="320" cy="305" r="105"/><circle cx="320" cy="305" r="57"/>
<path d="M180,305 H285 M355,305 H460 M320,165 V270 M320,340 V445"/></g>
<circle cx="320" cy="305" r="15" fill="#ff1616"/>
</g>
<g id="tank" transform="translate(860,210) scale(0.17188)">
<!-- antenna -->
<path d="M1606,328 Q1606,230 1640,166" fill="none" stroke="#262a18" stroke-width="5"/><circle cx="1642" cy="162" r="10" fill="#262a18"/>
<!-- far track -->
<path d="M740,590 L1080,590 L1080,786 L800,786 Q700,740 676,660 Q680,600 740,590 Z" fill="#6b7540"/>
<path d="M680,655 H1080 M700,706 H1080 M760,768 H1080" stroke="#3a4022" stroke-width="4" fill="none"/>
<path d="M870,585 L1010,585 Q895,640 925,705 Q950,755 1010,786 L860,786 Q790,735 785,660 Q792,610 870,585 Z" fill="#3f4525"/>
<path d="M965,590 L1110,590 L1170,786 L1010,786 Q920,725 914,652 Q925,602 965,590 Z" fill="#6b7540"/>
<path d="M916,655 H1100 M930,706 H1120 M975,768 H1150" stroke="#3a4022" stroke-width="4" fill="none"/>
<!-- hull side -->
<path d="M1060,585 L1760,585 Q1810,640 1772,705 L1690,782 L1140,786 L1062,690 Z" fill="#3f4525"/>
<polygon points="1228,590 1652,590 1602,652 1290,652" fill="#58622f" stroke="#4a5228" stroke-width="3"/>
<polygon points="1228,590 1652,590 1640,606 1245,606" fill="#6b7540"/>
<circle cx="1116" cy="640" r="52" fill="#a3a66b"/><circle cx="1116" cy="640" r="35.4" fill="#7b7f45"/><circle cx="1116" cy="640" r="19.8" fill="#a9ac72"/><circle cx="1735" cy="640" r="53" fill="#a3a66b"/><circle cx="1735" cy="640" r="36.0" fill="#7b7f45"/><circle cx="1735" cy="640" r="20.1" fill="#a9ac72"/><circle cx="1210" cy="736" r="45" fill="#a3a66b"/><circle cx="1210" cy="736" r="30.6" fill="#7b7f45"/><circle cx="1210" cy="736" r="17.1" fill="#a9ac72"/><circle cx="1316" cy="736" r="45" fill="#a3a66b"/><circle cx="1316" cy="736" r="30.6" fill="#7b7f45"/><circle cx="1316" cy="736" r="17.1" fill="#a9ac72"/><circle cx="1422" cy="736" r="45" fill="#a3a66b"/><circle cx="1422" cy="736" r="30.6" fill="#7b7f45"/><circle cx="1422" cy="736" r="17.1" fill="#a9ac72"/><circle cx="1530" cy="736" r="45" fill="#a3a66b"/><circle cx="1530" cy="736" r="30.6" fill="#7b7f45"/><circle cx="1530" cy="736" r="17.1" fill="#a9ac72"/><circle cx="1636" cy="736" r="45" fill="#a3a66b"/><circle cx="1636" cy="736" r="30.6" fill="#7b7f45"/><circle cx="1636" cy="736" r="17.1" fill="#a9ac72"/>
<!-- upper hull -->
<polygon points="780,570 1725,570 1735,592 800,592" fill="#343a1f"/>
<polygon points="780,570 905,455 1282,455 1122,570" fill="#5c6632"/>
<polygon points="1122,570 1282,455 1690,455 1726,570" fill="#3f4525"/>
<polygon points="1122,570 1282,455 1420,455 1420,570" fill="#444b28"/>
<polygon points="962,490 1112,490 1104,499 954,499" fill="#2a2e18"/><polygon points="940,510 1090,510 1082,519 932,519" fill="#2a2e18"/><polygon points="918,530 1068,530 1060,539 910,539" fill="#2a2e18"/>
<polygon points="1275,490 1387,490 1387,499 1275,499" fill="#2a2e18"/><polygon points="1275,508 1387,508 1387,517 1275,517" fill="#2a2e18"/><polygon points="1275,526 1387,526 1387,535 1275,535" fill="#2a2e18"/>
<polygon points="1570,490 1682,490 1682,499 1570,499" fill="#2a2e18"/><polygon points="1570,508 1682,508 1682,517 1570,517" fill="#2a2e18"/><polygon points="1570,526 1682,526 1682,535 1570,535" fill="#2a2e18"/>
<!-- barrel -->
<polygon points="865,347 1125,374 1125,416 865,410" fill="#3f4525"/>
<path d="M690,336 L850,342 Q870,344 872,362 L872,415 Q870,432 850,432 L690,426 Q662,420 664,380 Q664,342 690,336 Z" fill="#464d28"/>
<rect x="858" y="345" width="22" height="70" fill="#2f3419"/>
<ellipse cx="690" cy="381" rx="24" ry="44" fill="#6a7038"/>
<ellipse cx="688" cy="381" rx="14" ry="30" fill="#4a5026"/>
<!-- turret -->
<path d="M1262,325 Q1262,288 1300,288 L1510,288 Q1548,290 1550,326 Z" fill="#4a5129"/>
<path d="M1380,290 L1384,274 L1478,272 L1484,290 Z" fill="#5c6632"/>
<polygon points="1020,437 1148,325 1646,325 1646,437" fill="#3f4525"/>
<polygon points="1020,437 1148,325 1262,325 1140,437" fill="#58622f"/>
<polygon points="1165,437 1292,437 1475,292 1385,292 1300,325 1290,332" fill="#5c6632"/>
<polygon points="1020,437 1646,437 1646,452 1010,452" fill="#343a1f"/>
</g>
<g id="satellite" transform="translate(420,400) scale(0.14583)"><polygon points="60,225 340,390 340,403 60,238" fill="#6f6f72"/><polygon points="340,390 620,215 620,228 340,403" fill="#98989b"/><g transform="matrix(280.00,-175.00,280.00,165.00,60.00,225.00)"><rect width="1" height="1" fill="url(#sPanel)"/><path d="M0.0833,0V1M0,0.0833H1M0.1667,0V1M0,0.1667H1M0.2500,0V1M0,0.2500H1M0.3333,0V1M0,0.3333H1M0.4167,0V1M0,0.4167H1M0.5000,0V1M0,0.5000H1M0.5833,0V1M0,0.5833H1M0.6667,0V1M0,0.6667H1M0.7500,0V1M0,0.7500H1M0.8333,0V1M0,0.8333H1M0.9167,0V1M0,0.9167H1" stroke="#86abe0" stroke-opacity="0.85" stroke-width="0.75" vector-effect="non-scaling-stroke" fill="none"/><path d="M0.5,0V1" stroke="#c4c4c6" stroke-width="1.25" vector-effect="non-scaling-stroke" fill="none"/><path d="M0,0H1V1H0Z" stroke="#9dbbe6" stroke-width="0.5" vector-effect="non-scaling-stroke" fill="none"/></g><polygon points="470,292 505,272 530,288 495,310" fill="#8c8c8c"/><polygon points="375,400 652,562 652,575 375,413" fill="#6f6f72"/><polygon points="652,562 932,394 932,407 652,575" fill="#98989b"/><g transform="matrix(280.00,-168.00,277.00,162.00,375.00,400.00)"><rect width="1" height="1" fill="url(#sPanel)"/><path d="M0.0833,0V1M0,0.0833H1M0.1667,0V1M0,0.1667H1M0.2500,0V1M0,0.2500H1M0.3333,0V1M0,0.3333H1M0.4167,0V1M0,0.4167H1M0.5000,0V1M0,0.5000H1M0.5833,0V1M0,0.5833H1M0.6667,0V1M0,0.6667H1M0.7500,0V1M0,0.7500H1M0.8333,0V1M0,0.8333H1M0.9167,0V1M0,0.9167H1" stroke="#86abe0" stroke-opacity="0.85" stroke-width="0.75" vector-effect="non-scaling-stroke" fill="none"/><path d="M0.5,0V1" stroke="#c4c4c6" stroke-width="1.25" vector-effect="non-scaling-stroke" fill="none"/><path d="M0,0H1V1H0Z" stroke="#9dbbe6" stroke-width="0.5" vector-effect="non-scaling-stroke" fill="none"/></g><path d="M1070,636 L1135,674" stroke="#8a8a8a" stroke-width="24" stroke-linecap="round"/><polygon points="975,745 1255,910 1255,923 975,758" fill="#6f6f72"/><polygon points="1255,910 1535,745 1535,758 1255,923" fill="#98989b"/><g transform="matrix(280.00,-165.00,280.00,165.00,975.00,745.00)"><rect width="1" height="1" fill="url(#sPanel)"/><path d="M0.0833,0V1M0,0.0833H1M0.1667,0V1M0,0.1667H1M0.2500,0V1M0,0.2500H1M0.3333,0V1M0,0.3333H1M0.4167,0V1M0,0.4167H1M0.5000,0V1M0,0.5000H1M0.5833,0V1M0,0.5833H1M0.6667,0V1M0,0.6667H1M0.7500,0V1M0,0.7500H1M0.8333,0V1M0,0.8333H1M0.9167,0V1M0,0.9167H1" stroke="#86abe0" stroke-opacity="0.85" stroke-width="0.75" vector-effect="non-scaling-stroke" fill="none"/><path d="M0.5,0V1" stroke="#c4c4c6" stroke-width="1.25" vector-effect="non-scaling-stroke" fill="none"/><path d="M0,0H1V1H0Z" stroke="#9dbbe6" stroke-width="0.5" vector-effect="non-scaling-stroke" fill="none"/></g><polygon points="1395,830 1430,812 1455,828 1420,848" fill="#8c8c8c"/><polygon points="1295,930 1572,1100 1572,1113 1295,943" fill="#6f6f72"/><polygon points="1572,1100 1852,940 1852,953 1572,1113" fill="#98989b"/><g transform="matrix(280.00,-160.00,277.00,170.00,1295.00,930.00)"><rect width="1" height="1" fill="url(#sPanel)"/><path d="M0.0833,0V1M0,0.0833H1M0.1667,0V1M0,0.1667H1M0.2500,0V1M0,0.2500H1M0.3333,0V1M0,0.3333H1M0.4167,0V1M0,0.4167H1M0.5000,0V1M0,0.5000H1M0.5833,0V1M0,0.5833H1M0.6667,0V1M0,0.6667H1M0.7500,0V1M0,0.7500H1M0.8333,0V1M0,0.8333H1M0.9167,0V1M0,0.9167H1" stroke="#86abe0" stroke-opacity="0.85" stroke-width="0.75" vector-effect="non-scaling-stroke" fill="none"/><path d="M0.5,0V1" stroke="#c4c4c6" stroke-width="1.25" vector-effect="non-scaling-stroke" fill="none"/><path d="M0,0H1V1H0Z" stroke="#9dbbe6" stroke-width="0.5" vector-effect="non-scaling-stroke" fill="none"/></g><g transform="translate(1335,312) rotate(-30)"><path d="M0,-44 L45,-44 A20,44 0 0 1 45,44 L0,44 A20,44 0 0 1 0,-44 Z" fill="#6e6e6e"/><ellipse cx="45" cy="0" rx="20" ry="44" fill="#555"/></g><g transform="translate(1195,402) rotate(-30)"><path d="M0,-104 L135,-104 A46,104 0 0 1 135,104 L0,104 A46,104 0 0 1 0,-104 Z" fill="url(#sDrum)"/><ellipse cx="0" cy="0" rx="46" ry="104" fill="#dcdcdc"/><ellipse cx="0" cy="0" rx="30" ry="70" fill="#c4c4c4"/></g><g transform="translate(1090,455) rotate(-30)"><path d="M0,-62 L130,-62 A28,62 0 0 1 130,62 L0,62 A28,62 0 0 1 0,-62 Z" fill="url(#sShaft)"/></g><g transform="translate(828,626) rotate(-30)"><path d="M0,-142 L285,-142 A62,142 0 0 1 285,142 L0,142 A62,142 0 0 1 0,-142 Z" fill="url(#sDrum)"/><ellipse cx="0" cy="0" rx="62" ry="142" fill="#d9d9d9"/><ellipse cx="-4" cy="4" rx="40" ry="92" fill="#bfbfbf"/></g><g transform="translate(660,722) rotate(-30)"><path d="M0,-40 L190,-40 A18,40 0 0 1 190,40 L0,40 A18,40 0 0 1 0,-40 Z" fill="url(#sShaft)"/></g><g transform="translate(588,782) rotate(58)"><ellipse cx="6" cy="-22" rx="296" ry="190" fill="#f2f2f2"/><ellipse cx="0" cy="-8" rx="292" ry="186" fill="#dedede"/><ellipse cx="0" cy="6" rx="284" ry="178" fill="url(#sDish)"/><ellipse cx="10" cy="14" rx="240" ry="146" fill="#a6a6a6" opacity="0.7"/></g><path d="M640,738 L712,698" stroke="#d4d4d4" stroke-width="44" stroke-linecap="round"/><ellipse cx="640" cy="738" rx="15" ry="22" fill="#e6e6e6" transform="rotate(-30 640 738)"/><path d="M272,940 L602,566 M272,940 L700,656 M272,940 L782,856" stroke="#5e5e5e" stroke-width="6.5" fill="none"/><path d="M188,996 L268,946" stroke="#dcdcdc" stroke-width="40" stroke-linecap="round" opacity="0.9"/></g>
<g id="dishant" transform="translate(220,780) scale(0.17603)">
<!-- legs -->
<polygon points="236,1076 292,1128 66,1302" fill="#e2e2e2"/><polygon points="262,1100 292,1128 66,1302" fill="#c9c9c9"/>
<polygon points="522,1078 468,1142 706,1302 714,1290" fill="#dcdcdc"/><polygon points="522,1078 500,1104 712,1294 714,1290" fill="#f0f0f0"/>
<polygon points="340,1150 434,1150 402,1424 376,1424" fill="#e6e6e6"/><polygon points="388,1150 434,1150 402,1424 388,1424" fill="#c6c6c6"/>
<!-- lower drum -->
<path d="M245,1022 L245,1125 A138,70 0 0 0 521,1125 L521,1022 Z" fill="url(#aCyl)"/>
<ellipse cx="383" cy="1022" rx="138" ry="70" fill="#f1f1f1"/>
<!-- upper cylinder -->
<path d="M312,892 L312,1030 A72,30 0 0 0 456,1030 L456,892 Z" fill="url(#aCyl)"/>
<ellipse cx="384" cy="892" rx="72" ry="32" fill="#f3f3f3"/>
<!-- yoke -->
<path d="M360,876 L482,630" stroke="#dedede" stroke-width="36" stroke-linecap="round"/>
<path d="M400,905 L650,915" stroke="#d2d2d2" stroke-width="30" stroke-linecap="round"/>
<path d="M372,884 L560,770" stroke="#e8e8e8" stroke-width="40" stroke-linecap="round"/>
<!-- dish -->
<g transform="translate(875,592) rotate(64)">
<ellipse cx="20" cy="36" rx="502" ry="364" fill="#e2e2e2"/>
<ellipse cx="0" cy="0" rx="516" ry="370" fill="#f5f5f5" stroke="#d6d6d6" stroke-width="4"/>
<ellipse cx="8" cy="-12" rx="490" ry="344" fill="#b2b2b2"/>
<ellipse cx="14" cy="-24" rx="438" ry="298" fill="#c3c3c3"/>
<ellipse cx="18" cy="-38" rx="368" ry="238" fill="#c9c9c9"/>
</g>
<!-- struts -->
<path d="M528,488 L1252,350 M780,935 L1256,386" stroke="#4e4e4e" stroke-width="8" fill="none"/>
<!-- feed arm -->
<ellipse cx="665" cy="712" rx="46" ry="64" fill="#f1f1f1" stroke="#dcdcdc" stroke-width="3" transform="rotate(-30 665 712)"/>
<g transform="translate(665,712) rotate(-29.8)">
<rect x="0" y="-18" width="720" height="36" rx="16" fill="url(#aArm)"/>
<rect x="690" y="-34" width="58" height="68" rx="20" fill="#f3f3f3" stroke="#dadada" stroke-width="3"/>
<rect x="740" y="-20" width="100" height="40" rx="18" fill="url(#aArm)"/>
<ellipse cx="832" cy="0" rx="12" ry="20" fill="#fafafa"/>
</g>
</g>
<g id="c1" transform="translate(545,615) scale(0.14085)"><path d="M289.0,673 L311.0,673 L308.0,1039 Q300.0,1049 292.0,1039 Z" fill="url(#c1Pin)"/><path d="M484.0,705 L506.0,705 L503.0,909 Q495.0,919 487.0,909 Z" fill="url(#c1Pin)"/><path d="M689.0,707 L711.0,707 L708.0,909 Q700.0,919 692.0,909 Z" fill="url(#c1Pin)"/><path d="M797.0,697 L819.0,697 L816.0,959 Q808.0,969 800.0,959 Z" fill="url(#c1Pin)"/><path d="M914.0,674 L936.0,674 L933.0,1014 Q925.0,1024 917.0,1014 Z" fill="url(#c1Pin)"/><path d="M268.5,668 L295.5,668 L292.5,1164 Q282.0,1174 271.5,1164 Z" fill="url(#c1Pin)"/><path d="M384.5,693 L411.5,693 L408.5,1229 Q398.0,1239 387.5,1229 Z" fill="url(#c1Pin)"/><path d="M494.5,706 L521.5,706 L518.5,1294 Q508.0,1304 497.5,1294 Z" fill="url(#c1Pin)"/><path d="M748.5,702 L775.5,702 L772.5,1289 Q762.0,1299 751.5,1289 Z" fill="url(#c1Pin)"/><path d="M854.5,687 L881.5,687 L878.5,1209 Q868.0,1219 857.5,1209 Z" fill="url(#c1Pin)"/><path d="M954.5,662 L981.5,662 L978.5,1139 Q968.0,1149 957.5,1139 Z" fill="url(#c1Pin)"/><path d="M103,524 A512,172 0 0 0 1127,524 L1127,552 A512,172 0 0 1 103,552 Z" fill="#9c7c14"/><ellipse cx="615" cy="524" rx="512" ry="172" fill="url(#c1Fl)"/><rect x="628" y="690" width="64" height="96" rx="6" fill="#c9a62c"/><rect x="628" y="690" width="64" height="30" fill="#e2c650"/><path d="M135,270 L135,484 A480,182 0 0 0 1095,484 L1095,270 Z" fill="url(#c1Side)"/><path d="M135,481 A480,182 0 0 0 1095,481" fill="none" stroke="#9c7c14" stroke-width="7" opacity="0.6"/><ellipse cx="615" cy="270" rx="480" ry="200" fill="url(#c1Rim)"/><path d="M141,278 A474,196 0 0 0 1089,278" fill="none" stroke="#f8e880" stroke-width="9" opacity="0.9"/><ellipse cx="618" cy="262" rx="418" ry="164" fill="#9c7c14"/><g clip-path="url(#c1Win)"><rect x="150" y="60" width="950" height="420" fill="#2c2c2a"/><ellipse cx="618" cy="300" rx="400" ry="125" fill="#55554f"/>
<polygon points="300,340 590,190 1010,300 720,440" fill="#b89c50"/>
<polygon points="300,340 720,440 720,470 300,370" fill="#7d6a30"/>
<g fill="#2e2e2e"><rect x="360" y="275" width="70" height="40" rx="6"/><rect x="470" y="285" width="70" height="36" rx="6"/><rect x="375" y="335" width="80" height="40" rx="6"/><rect x="480" y="345" width="80" height="40" rx="6"/><rect x="580" y="360" width="80" height="40" rx="6"/><rect x="690" y="330" width="80" height="40" rx="6"/><rect x="720" y="290" width="70" height="36" rx="6"/><rect x="540" y="395" width="90" height="36" rx="6"/><rect x="260" y="310" width="70" height="50" rx="6"/><rect x="860" y="300" width="90" height="50" rx="6"/></g>
<polygon points="672,170 760,150 830,175 830,270 745,290 672,262" fill="#3a3a3a"/><polygon points="760,200 830,178 830,270 772,290" fill="#8c8c8c"/>
<rect x="598" y="262" width="42" height="82" rx="8" fill="#c4a752"/><ellipse cx="619" cy="266" rx="21" ry="9" fill="#e2cf86"/>
<rect x="840" y="335" width="60" height="40" fill="#9a9a9a"/>
<ellipse cx="618" cy="262" rx="410" ry="158" fill="none" stroke="#1c1c1a" stroke-width="26" opacity="0.45"/></g><text x="314.0 376.9 439.8 502.8 540.5 603.4 666.3 729.2 792.2 855.1" y="583.3 602.2 616.3 624.0 628.6 629.9 626.3 617.7 604.3 586.0" font-size="126" fill="#141414" style="font-family:'Liberation Sans',sans-serif" transform="translate(0,0)"><tspan textLength="604" lengthAdjust="spacingAndGlyphs">264-339831</tspan></text>
</g><g id="c2" transform="translate(850,560) scale(0.15493)"><ellipse cx="740" cy="1120" rx="280" ry="100" fill="#000" opacity="0.2" filter="url(#c2Bl)"/><path d="M496.0,775 L514.0,775 L511.0,1084 Q505.0,1094 499.0,1084 Z" fill="url(#c2Pin)"/><path d="M523.0,790 L541.0,790 L538.0,1054 Q532.0,1064 526.0,1054 Z" fill="url(#c2Pin)"/><path d="M651.0,790 L669.0,790 L666.0,994 Q660.0,1004 654.0,994 Z" fill="url(#c2Pin)"/><path d="M771.0,795 L789.0,795 L786.0,984 Q780.0,994 774.0,984 Z" fill="url(#c2Pin)"/><path d="M886.0,785 L904.0,785 L901.0,994 Q895.0,1004 889.0,994 Z" fill="url(#c2Pin)"/><path d="M966.0,775 L984.0,775 L981.0,1104 Q975.0,1114 969.0,1104 Z" fill="url(#c2Pin)"/><path d="M469.5,775 L490.5,775 L487.5,1159 Q480.0,1169 472.5,1159 Z" fill="url(#c2Pin)"/><path d="M567.5,790 L588.5,790 L585.5,1189 Q578.0,1199 570.5,1189 Z" fill="url(#c2Pin)"/><path d="M694.5,795 L715.5,795 L712.5,1209 Q705.0,1219 697.5,1209 Z" fill="url(#c2Pin)"/><path d="M801.5,795 L822.5,795 L819.5,1204 Q812.0,1214 804.5,1204 Z" fill="url(#c2Pin)"/><path d="M924.5,780 L945.5,780 L942.5,1164 Q935.0,1174 927.5,1164 Z" fill="url(#c2Pin)"/><path d="M130,590 A590,200 0 0 0 1310,590 L1310,616 A590,200 0 0 1 130,616 Z" fill="#94681a"/><ellipse cx="720" cy="590" rx="590" ry="200" fill="url(#c2Fl)"/><path d="M190,400 L190,585 A530,185 0 0 0 1250,585 L1250,400 Z" fill="url(#c2Side)"/><path d="M190,582 A530,185 0 0 0 1250,582" fill="none" stroke="#94681a" stroke-width="7" opacity="0.6"/><ellipse cx="720" cy="400" rx="530" ry="205" fill="url(#c2Rim)"/><path d="M196,408 A524,201 0 0 0 1244,408" fill="none" stroke="#f6dc98" stroke-width="9" opacity="0.9"/><ellipse cx="722" cy="392" rx="463" ry="171" fill="#94681a"/><g clip-path="url(#c2Win)"><rect x="200" y="180" width="1050" height="420" fill="#14171c"/><ellipse cx="722" cy="432" rx="440" ry="150" fill="#1b3f7a"/><ellipse cx="700" cy="470" rx="300" ry="90" fill="#224c90" opacity="0.7"/><rect x="572" y="339" width="33" height="7" rx="3" fill="#c9a040" transform="rotate(0 572 339)"/><rect x="607" y="315" width="28" height="6" rx="3" fill="#a8822a" transform="rotate(60 607 315)"/><rect x="359" y="324" width="25" height="14" rx="3" fill="#c9a040" transform="rotate(30 359 324)"/><rect x="830" y="452" width="12" height="12" rx="3" fill="#c9a040" transform="rotate(30 830 452)"/><rect x="339" y="523" width="20" height="7" rx="3" fill="#c9a040" transform="rotate(90 339 523)"/><rect x="559" y="512" width="17" height="12" rx="3" fill="#232c48" transform="rotate(30 559 512)"/><rect x="613" y="442" width="12" height="7" rx="3" fill="#d8b458" transform="rotate(60 613 442)"/><rect x="872" y="411" width="21" height="12" rx="3" fill="#a8822a" transform="rotate(-30 872 411)"/><rect x="552" y="507" width="35" height="8" rx="3" fill="#c9a040" transform="rotate(-30 552 507)"/><rect x="741" y="528" width="36" height="9" rx="3" fill="#c9a040" transform="rotate(0 741 528)"/><rect x="730" y="343" width="22" height="15" rx="3" fill="#a8822a" transform="rotate(0 730 343)"/><rect x="1108" y="320" width="30" height="14" rx="3" fill="#b48c30" transform="rotate(-30 1108 320)"/><rect x="884" y="455" width="31" height="11" rx="3" fill="#c9a040" transform="rotate(-30 884 455)"/><rect x="698" y="473" width="12" height="13" rx="3" fill="#232c48" transform="rotate(90 698 473)"/><rect x="1134" y="514" width="20" height="10" rx="3" fill="#232c48" transform="rotate(-30 1134 514)"/><rect x="319" y="420" width="16" height="7" rx="3" fill="#c9a040" transform="rotate(30 319 420)"/><rect x="945" y="334" width="19" height="10" rx="3" fill="#a8822a" transform="rotate(0 945 334)"/><rect x="440" y="404" width="20" height="7" rx="3" fill="#a8822a" transform="rotate(90 440 404)"/><rect x="534" y="408" width="23" height="15" rx="3" fill="#d8b458" transform="rotate(30 534 408)"/><rect x="370" y="339" width="34" height="6" rx="3" fill="#c9a040" transform="rotate(30 370 339)"/><rect x="521" y="301" width="25" height="10" rx="3" fill="#c9a040" transform="rotate(-30 521 301)"/><rect x="1101" y="480" width="29" height="12" rx="3" fill="#232c48" transform="rotate(-20 1101 480)"/><rect x="345" y="534" width="38" height="15" rx="3" fill="#c9a040" transform="rotate(60 345 534)"/><rect x="634" y="402" width="27" height="10" rx="3" fill="#d8b458" transform="rotate(0 634 402)"/><rect x="1127" y="415" width="14" height="12" rx="3" fill="#c9a040" transform="rotate(0 1127 415)"/><rect x="776" y="440" width="44" height="12" rx="3" fill="#c9a040" transform="rotate(30 776 440)"/><rect x="816" y="339" width="19" height="9" rx="3" fill="#b48c30" transform="rotate(60 816 339)"/><rect x="403" y="521" width="46" height="11" rx="3" fill="#a8822a" transform="rotate(-30 403 521)"/><rect x="372" y="327" width="22" height="9" rx="3" fill="#232c48" transform="rotate(30 372 327)"/><rect x="734" y="353" width="44" height="10" rx="3" fill="#232c48" transform="rotate(90 734 353)"/><rect x="1068" y="497" width="21" height="12" rx="3" fill="#c9a040" transform="rotate(-20 1068 497)"/><rect x="1010" y="435" width="43" height="10" rx="3" fill="#d8b458" transform="rotate(90 1010 435)"/><rect x="755" y="431" width="33" height="12" rx="3" fill="#d8b458" transform="rotate(30 755 431)"/><rect x="987" y="492" width="18" height="11" rx="3" fill="#b48c30" transform="rotate(-20 987 492)"/><rect x="324" y="307" width="20" height="9" rx="3" fill="#232c48" transform="rotate(90 324 307)"/><rect x="1103" y="416" width="44" height="16" rx="3" fill="#b48c30" transform="rotate(0 1103 416)"/><rect x="485" y="359" width="17" height="8" rx="3" fill="#c9a040" transform="rotate(90 485 359)"/><rect x="1006" y="425" width="34" height="14" rx="3" fill="#c9a040" transform="rotate(-20 1006 425)"/><rect x="401" y="401" width="36" height="8" rx="3" fill="#d8b458" transform="rotate(60 401 401)"/><rect x="963" y="386" width="39" height="16" rx="3" fill="#a8822a" transform="rotate(60 963 386)"/><rect x="637" y="546" width="36" height="8" rx="3" fill="#d8b458" transform="rotate(0 637 546)"/><rect x="427" y="535" width="39" height="7" rx="3" fill="#c9a040" transform="rotate(60 427 535)"/><rect x="852" y="391" width="30" height="7" rx="3" fill="#c9a040" transform="rotate(-20 852 391)"/><rect x="846" y="437" width="44" height="10" rx="3" fill="#d8b458" transform="rotate(30 846 437)"/><rect x="324" y="355" width="28" height="14" rx="3" fill="#b48c30" transform="rotate(-30 324 355)"/><rect x="757" y="517" width="12" height="13" rx="3" fill="#a8822a" transform="rotate(-20 757 517)"/><rect x="790" y="535" width="25" height="15" rx="3" fill="#c9a040" transform="rotate(30 790 535)"/><rect x="747" y="436" width="11" height="10" rx="3" fill="#d8b458" transform="rotate(90 747 436)"/><rect x="303" y="508" width="16" height="11" rx="3" fill="#232c48" transform="rotate(0 303 508)"/><rect x="767" y="385" width="29" height="12" rx="3" fill="#c9a040" transform="rotate(90 767 385)"/><rect x="348" y="350" width="12" height="7" rx="3" fill="#a8822a" transform="rotate(90 348 350)"/><rect x="323" y="532" width="12" height="9" rx="3" fill="#c9a040" transform="rotate(90 323 532)"/><rect x="730" y="480" width="26" height="11" rx="3" fill="#a8822a" transform="rotate(90 730 480)"/><rect x="1091" y="482" width="42" height="15" rx="3" fill="#b48c30" transform="rotate(90 1091 482)"/><rect x="1050" y="353" width="26" height="10" rx="3" fill="#a8822a" transform="rotate(60 1050 353)"/><rect x="565" y="475" width="25" height="8" rx="3" fill="#b48c30" transform="rotate(0 565 475)"/><rect x="1054" y="340" width="36" height="13" rx="3" fill="#d8b458" transform="rotate(-30 1054 340)"/><rect x="1042" y="552" width="18" height="16" rx="3" fill="#a8822a" transform="rotate(60 1042 552)"/><rect x="437" y="474" width="18" height="13" rx="3" fill="#c9a040" transform="rotate(60 437 474)"/><rect x="585" y="351" width="21" height="13" rx="3" fill="#c9a040" transform="rotate(-30 585 351)"/><rect x="765" y="415" width="11" height="9" rx="3" fill="#c9a040" transform="rotate(-30 765 415)"/><rect x="730" y="317" width="45" height="14" rx="3" fill="#c9a040" transform="rotate(0 730 317)"/><rect x="523" y="310" width="38" height="9" rx="3" fill="#d8b458" transform="rotate(60 523 310)"/><rect x="1014" y="476" width="44" height="10" rx="3" fill="#c9a040" transform="rotate(90 1014 476)"/><rect x="779" y="482" width="13" height="7" rx="3" fill="#232c48" transform="rotate(30 779 482)"/><rect x="657" y="319" width="44" height="12" rx="3" fill="#b48c30" transform="rotate(0 657 319)"/><rect x="811" y="358" width="20" height="7" rx="3" fill="#c9a040" transform="rotate(-30 811 358)"/><rect x="1135" y="409" width="43" height="12" rx="3" fill="#c9a040" transform="rotate(90 1135 409)"/><rect x="896" y="544" width="45" height="9" rx="3" fill="#d8b458" transform="rotate(30 896 544)"/><rect x="1083" y="463" width="29" height="8" rx="3" fill="#a8822a" transform="rotate(90 1083 463)"/><rect x="865" y="370" width="39" height="16" rx="3" fill="#c9a040" transform="rotate(0 865 370)"/><rect x="315" y="431" width="45" height="11" rx="3" fill="#d8b458" transform="rotate(60 315 431)"/><rect x="389" y="513" width="26" height="11" rx="3" fill="#a8822a" transform="rotate(90 389 513)"/><rect x="559" y="356" width="18" height="8" rx="3" fill="#232c48" transform="rotate(-20 559 356)"/><rect x="834" y="405" width="23" height="7" rx="3" fill="#d8b458" transform="rotate(0 834 405)"/><rect x="359" y="493" width="19" height="8" rx="3" fill="#c9a040" transform="rotate(-20 359 493)"/><rect x="1007" y="526" width="34" height="9" rx="3" fill="#d8b458" transform="rotate(-20 1007 526)"/><rect x="546" y="419" width="16" height="10" rx="3" fill="#b48c30" transform="rotate(-30 546 419)"/><rect x="1108" y="553" width="30" height="8" rx="3" fill="#b48c30" transform="rotate(30 1108 553)"/><rect x="600" y="300" width="24" height="11" rx="3" fill="#c9a040" transform="rotate(-20 600 300)"/><rect x="469" y="431" width="10" height="9" rx="3" fill="#c9a040" transform="rotate(30 469 431)"/><rect x="636" y="311" width="11" height="9" rx="3" fill="#d8b458" transform="rotate(0 636 311)"/><rect x="792" y="438" width="37" height="13" rx="3" fill="#232c48" transform="rotate(90 792 438)"/><rect x="627" y="385" width="45" height="7" rx="3" fill="#232c48" transform="rotate(90 627 385)"/><rect x="840" y="311" width="40" height="15" rx="3" fill="#232c48" transform="rotate(60 840 311)"/><rect x="916" y="511" width="15" height="11" rx="3" fill="#c9a040" transform="rotate(90 916 511)"/><rect x="1001" y="509" width="40" height="12" rx="3" fill="#232c48" transform="rotate(-20 1001 509)"/><rect x="1103" y="467" width="13" height="6" rx="3" fill="#232c48" transform="rotate(-30 1103 467)"/><rect x="1106" y="398" width="26" height="7" rx="3" fill="#c9a040" transform="rotate(-20 1106 398)"/><rect x="746" y="364" width="19" height="11" rx="3" fill="#c9a040" transform="rotate(-20 746 364)"/><rect x="1083" y="533" width="13" height="11" rx="3" fill="#232c48" transform="rotate(-20 1083 533)"/><rect x="698" y="510" width="40" height="8" rx="3" fill="#d8b458" transform="rotate(30 698 510)"/><rect x="921" y="554" width="28" height="10" rx="3" fill="#a8822a" transform="rotate(-20 921 554)"/><rect x="541" y="312" width="33" height="8" rx="3" fill="#c9a040" transform="rotate(30 541 312)"/><rect x="579" y="469" width="35" height="12" rx="3" fill="#d8b458" transform="rotate(0 579 469)"/><rect x="705" y="426" width="45" height="7" rx="3" fill="#d8b458" transform="rotate(-20 705 426)"/><rect x="711" y="484" width="20" height="11" rx="3" fill="#c9a040" transform="rotate(90 711 484)"/><rect x="467" y="554" width="44" height="6" rx="3" fill="#a8822a" transform="rotate(0 467 554)"/><rect x="989" y="552" width="26" height="9" rx="3" fill="#d8b458" transform="rotate(30 989 552)"/><rect x="363" y="323" width="37" height="9" rx="3" fill="#b48c30" transform="rotate(30 363 323)"/><rect x="807" y="464" width="20" height="7" rx="3" fill="#b48c30" transform="rotate(30 807 464)"/><rect x="718" y="528" width="24" height="8" rx="3" fill="#a8822a" transform="rotate(-20 718 528)"/><rect x="679" y="379" width="15" height="9" rx="3" fill="#b48c30" transform="rotate(0 679 379)"/><rect x="1006" y="300" width="37" height="14" rx="3" fill="#c9a040" transform="rotate(30 1006 300)"/><rect x="899" y="534" width="20" height="10" rx="3" fill="#a8822a" transform="rotate(60 899 534)"/><rect x="1139" y="453" width="23" height="10" rx="3" fill="#b48c30" transform="rotate(0 1139 453)"/><rect x="536" y="313" width="34" height="12" rx="3" fill="#d8b458" transform="rotate(30 536 313)"/><rect x="1116" y="413" width="21" height="14" rx="3" fill="#a8822a" transform="rotate(0 1116 413)"/><rect x="982" y="464" width="43" height="15" rx="3" fill="#c9a040" transform="rotate(30 982 464)"/><rect x="904" y="313" width="36" height="11" rx="3" fill="#d8b458" transform="rotate(-20 904 313)"/><rect x="1030" y="426" width="43" height="12" rx="3" fill="#d8b458" transform="rotate(60 1030 426)"/><rect x="648" y="373" width="19" height="13" rx="3" fill="#232c48" transform="rotate(-30 648 373)"/><rect x="641" y="362" width="27" height="13" rx="3" fill="#c9a040" transform="rotate(30 641 362)"/><rect x="840" y="320" width="28" height="14" rx="3" fill="#c9a040" transform="rotate(30 840 320)"/><rect x="681" y="387" width="37" height="10" rx="3" fill="#c9a040" transform="rotate(30 681 387)"/><rect x="505" y="345" width="30" height="9" rx="3" fill="#b48c30" transform="rotate(-30 505 345)"/><rect x="980" y="353" width="11" height="15" rx="3" fill="#a8822a" transform="rotate(60 980 353)"/><rect x="927" y="355" width="20" height="14" rx="3" fill="#a8822a" transform="rotate(-30 927 355)"/><rect x="782" y="394" width="35" height="11" rx="3" fill="#d8b458" transform="rotate(0 782 394)"/><rect x="528" y="365" width="24" height="10" rx="3" fill="#b48c30" transform="rotate(0 528 365)"/><rect x="407" y="411" width="37" height="14" rx="3" fill="#c9a040" transform="rotate(60 407 411)"/><rect x="300" y="402" width="43" height="14" rx="3" fill="#a8822a" transform="rotate(60 300 402)"/><rect x="509" y="328" width="16" height="11" rx="3" fill="#232c48" transform="rotate(0 509 328)"/><rect x="1091" y="488" width="33" height="14" rx="3" fill="#a8822a" transform="rotate(0 1091 488)"/><rect x="763" y="310" width="38" height="8" rx="3" fill="#c9a040" transform="rotate(-20 763 310)"/><rect x="901" y="550" width="33" height="11" rx="3" fill="#a8822a" transform="rotate(-20 901 550)"/><rect x="942" y="326" width="21" height="15" rx="3" fill="#d8b458" transform="rotate(60 942 326)"/><rect x="519" y="506" width="10" height="11" rx="3" fill="#a8822a" transform="rotate(-30 519 506)"/><rect x="1106" y="468" width="42" height="11" rx="3" fill="#d8b458" transform="rotate(90 1106 468)"/><rect x="508" y="550" width="35" height="9" rx="3" fill="#c9a040" transform="rotate(30 508 550)"/><rect x="719" y="475" width="25" height="9" rx="3" fill="#232c48" transform="rotate(60 719 475)"/><rect x="1077" y="359" width="11" height="9" rx="3" fill="#a8822a" transform="rotate(-30 1077 359)"/><rect x="873" y="352" width="39" height="13" rx="3" fill="#c9a040" transform="rotate(0 873 352)"/><rect x="472" y="552" width="21" height="14" rx="3" fill="#d8b458" transform="rotate(60 472 552)"/><rect x="486" y="498" width="21" height="16" rx="3" fill="#a8822a" transform="rotate(90 486 498)"/><rect x="457" y="358" width="25" height="13" rx="3" fill="#c9a040" transform="rotate(30 457 358)"/><rect x="1074" y="314" width="11" height="12" rx="3" fill="#a8822a" transform="rotate(0 1074 314)"/><rect x="896" y="348" width="26" height="13" rx="3" fill="#b48c30" transform="rotate(-20 896 348)"/><rect x="395" y="321" width="16" height="8" rx="3" fill="#232c48" transform="rotate(90 395 321)"/><rect x="927" y="308" width="34" height="10" rx="3" fill="#b48c30" transform="rotate(-30 927 308)"/><rect x="672" y="328" width="13" height="7" rx="3" fill="#a8822a" transform="rotate(0 672 328)"/><rect x="771" y="497" width="24" height="14" rx="3" fill="#b48c30" transform="rotate(60 771 497)"/><rect x="374" y="483" width="17" height="11" rx="3" fill="#a8822a" transform="rotate(30 374 483)"/><rect x="572" y="492" width="27" height="12" rx="3" fill="#d8b458" transform="rotate(-20 572 492)"/><rect x="944" y="311" width="11" height="7" rx="3" fill="#c9a040" transform="rotate(-30 944 311)"/><rect x="464" y="316" width="32" height="10" rx="3" fill="#b48c30" transform="rotate(90 464 316)"/><rect x="337" y="494" width="35" height="15" rx="3" fill="#b48c30" transform="rotate(0 337 494)"/><rect x="906" y="455" width="39" height="15" rx="3" fill="#c9a040" transform="rotate(0 906 455)"/><rect x="994" y="328" width="36" height="11" rx="3" fill="#a8822a" transform="rotate(-30 994 328)"/><rect x="1067" y="512" width="15" height="11" rx="3" fill="#c9a040" transform="rotate(-20 1067 512)"/><ellipse cx="515" cy="520" rx="30" ry="16" fill="#7f9ccc"/><ellipse cx="515" cy="517" rx="16" ry="8" fill="#c4d6ee"/><ellipse cx="610" cy="400" rx="30" ry="16" fill="#7f9ccc"/><ellipse cx="610" cy="397" rx="16" ry="8" fill="#c4d6ee"/><ellipse cx="715" cy="385" rx="30" ry="16" fill="#7f9ccc"/><ellipse cx="715" cy="382" rx="16" ry="8" fill="#c4d6ee"/><ellipse cx="480" cy="465" rx="30" ry="16" fill="#7f9ccc"/><ellipse cx="480" cy="462" rx="16" ry="8" fill="#c4d6ee"/><ellipse cx="925" cy="530" rx="30" ry="16" fill="#7f9ccc"/><ellipse cx="925" cy="527" rx="16" ry="8" fill="#c4d6ee"/><ellipse cx="965" cy="475" rx="30" ry="16" fill="#7f9ccc"/><ellipse cx="965" cy="472" rx="16" ry="8" fill="#c4d6ee"/><ellipse cx="1010" cy="540" rx="30" ry="16" fill="#7f9ccc"/><ellipse cx="1010" cy="537" rx="16" ry="8" fill="#c4d6ee"/><ellipse cx="600" cy="480" rx="30" ry="16" fill="#7f9ccc"/><ellipse cx="600" cy="477" rx="16" ry="8" fill="#c4d6ee"/><ellipse cx="740" cy="470" rx="46" ry="26" fill="#1a1d24"/><ellipse cx="722" cy="392" rx="455" ry="165" fill="none" stroke="#0a0c10" stroke-width="26" opacity="0.55"/></g></g><g id="c3" transform="translate(1390,500) scale(0.14787)"><path d="M227.0,700 L253.0,700 L250.0,1039 Q240.0,1049 230.0,1039 Z" fill="url(#c3Pin)"/><path d="M342.0,734 L368.0,734 L365.0,994 Q355.0,1004 345.0,994 Z" fill="url(#c3Pin)"/><path d="M787.0,700 L813.0,700 L810.0,1044 Q800.0,1054 790.0,1044 Z" fill="url(#c3Pin)"/><path d="M233.0,690 L267.0,690 L264.0,1159 Q250.0,1169 236.0,1159 Z" fill="url(#c3Pin)"/><path d="M321.0,720 L355.0,720 L352.0,1219 Q338.0,1229 324.0,1219 Z" fill="url(#c3Pin)"/><path d="M413.0,746 L447.0,746 L444.0,1274 Q430.0,1284 416.0,1274 Z" fill="url(#c3Pin)"/><path d="M608.0,749 L642.0,749 L639.0,1279 Q625.0,1289 611.0,1279 Z" fill="url(#c3Pin)"/><path d="M701.0,738 L735.0,738 L732.0,1229 Q718.0,1239 704.0,1229 Z" fill="url(#c3Pin)"/><path d="M801.0,700 L835.0,700 L832.0,1169 Q818.0,1179 804.0,1169 Z" fill="url(#c3Pin)"/><path d="M115,560 A430,175 0 0 0 975,560 L975,592 A430,175 0 0 1 115,592 Z" fill="#84660e"/><ellipse cx="545" cy="560" rx="430" ry="175" fill="url(#c3Fl)"/><circle cx="982" cy="528" r="20" fill="#d3ae2a"/><circle cx="986" cy="526" r="8" fill="#8e6f10"/><path d="M150,285 L150,525 A395,170 0 0 0 940,525 L940,285 Z" fill="url(#c3Side)"/><path d="M150,522 A395,170 0 0 0 940,522" fill="none" stroke="#84660e" stroke-width="7" opacity="0.6"/><ellipse cx="545" cy="285" rx="395" ry="185" fill="url(#c3Rim)"/><path d="M156,293 A389,181 0 0 0 934,293" fill="none" stroke="#f4dc72" stroke-width="9" opacity="0.9"/><ellipse cx="548" cy="278" rx="338" ry="151" fill="#84660e"/><g clip-path="url(#c3Win)"><rect x="180" y="100" width="740" height="360" fill="#1f1a18"/>
<ellipse cx="548" cy="322" rx="322" ry="118" fill="#6b5b4b"/>
<ellipse cx="548" cy="340" rx="250" ry="72" fill="#857868" opacity="0.8"/>
<polygon points="400,310 560,245 760,310 600,380" fill="#9c9288"/>
<polygon points="440,300 540,265 600,290 500,325" fill="#6a625c"/><polygon points="560,310 680,280 740,310 620,345" fill="#c4beb6"/>
<rect x="560" y="265" width="70" height="16" fill="#c9a63a" transform="rotate(-12 560 265)"/><rect x="640" y="300" width="26" height="18" fill="#c9a63a"/>
<rect x="330" y="328" width="60" height="22" fill="#b8b0a8" transform="rotate(20 330 328)"/>
<ellipse cx="548" cy="278" rx="330" ry="145" fill="none" stroke="#120e0c" stroke-width="22" opacity="0.5"/></g></g>
<g id="flamebase" transform="translate(1240,455) scale(0.10215)">
<!-- red body -->
<path d="M235,818 Q480,900 752,758 L752,1000 L590,1010 L590,1290 L470,1302 L300,1232 L290,1050 L245,985 Z" fill="#c8102c"/>
<polygon points="240,870 400,915 425,1275 300,1232 290,1050 245,985" fill="url(#fPink)"/>
<polygon points="400,915 445,925 470,1300 425,1275" fill="#a00c22"/>
<polygon points="445,925 745,900 745,985 590,1000 590,1290 470,1300" fill="url(#fRed)"/>
<path d="M235,818 Q480,900 752,758 L752,835 Q480,962 240,872 Z" fill="#8a0a1e"/>
<g fill="#6a1c2c"><rect x="262" y="872" width="88" height="22" rx="10" transform="rotate(22 262 872)"/><rect x="262" y="917" width="88" height="22" rx="10" transform="rotate(22 262 917)"/><rect x="262" y="962" width="88" height="22" rx="10" transform="rotate(22 262 962)"/></g>
<rect x="315" y="1110" width="36" height="96" fill="#8e8e96"/><path d="M320,1130H346M320,1150H346M320,1170H346M320,1190H346" stroke="#55565e" stroke-width="7"/>
<!-- grey box -->
<polygon points="598,1005 742,934 868,930 886,1072" fill="#6a6e78"/>
<polygon points="868,930 890,944 902,1300 886,1322 866,1075" fill="#8a8c94"/>
<polygon points="596,1006 866,1075 886,1322 690,1352 590,1290" fill="url(#fBox)"/>
<circle cx="870" cy="1082" r="9" fill="#9a9ca4"/><circle cx="846" cy="1326" r="9" fill="#9a9ca4"/>
<!-- collar -->
<path d="M300,760 Q292,700 400,690 L620,690 Q722,700 716,760 Q700,832 510,832 Q330,832 300,760 Z" fill="#d6d6da"/>
<path d="M560,690 L620,690 Q722,700 716,760 Q706,815 600,828 Z" fill="#9c9ea6"/>
<rect x="398" y="724" width="190" height="48" rx="8" fill="#3a3c44"/>
<path d="M330,716 L198,720 Q182,722 184,742 L188,790 Q190,806 208,803 L360,790" fill="none" stroke="#9a9ca4" stroke-width="22"/>
<path d="M330,716 L198,720 Q182,722 184,742 L188,790 Q190,806 208,803 L360,790" fill="none" stroke="#f0f0f4" stroke-width="13"/>
<polygon points="272,712 322,706 300,740" fill="#3c3e46"/><polygon points="232,780 262,760 268,792" fill="#d8102c"/>
<!-- flange plates & column -->
<ellipse cx="500" cy="648" rx="195" ry="48" fill="#6a6e78"/><path d="M612,610 L690,680 L560,690 Z" fill="#6a6e78"/>
<ellipse cx="495" cy="630" rx="140" ry="36" fill="#eaeaee"/>
<rect x="378" y="440" width="232" height="185" fill="url(#fCol)"/><ellipse cx="494" cy="625" rx="116" ry="26" fill="#cfcfd4"/>
<ellipse cx="492" cy="418" rx="152" ry="36" fill="#dcdce0"/><ellipse cx="492" cy="396" rx="166" ry="38" fill="#6a6e78"/>
<rect x="362" y="296" width="258" height="96" fill="url(#fCol)"/>
<ellipse cx="490" cy="302" rx="166" ry="38" fill="#e2e2e6"/><ellipse cx="490" cy="276" rx="180" ry="42" fill="#6a6e78"/>
<!-- tubes -->
<rect x="540" y="100" width="96" height="176" fill="url(#fTube)"/><ellipse cx="588" cy="100" rx="48" ry="18" fill="#6a6e76"/>
<rect x="345" y="100" width="96" height="176" fill="url(#fTube)"/><ellipse cx="393" cy="100" rx="48" ry="18" fill="#8a8e96"/>
<rect x="430" y="125" width="114" height="160" fill="url(#fTube)"/><ellipse cx="487" cy="125" rx="57" ry="20" fill="#5e626a"/>
<!-- small flames -->
<path d="M320,20 L365,60 L375,-10 L400,50 L440,5 L430,70 L470,55 L440,110 Q400,130 365,105 Z" fill="#f6a41c"/>
<path d="M350,50 L378,75 L392,30 L408,72 L432,50 L425,100 Q400,115 372,98 Z" fill="#ffe25a"/>
<path d="M450,120 L470,70 L488,10 L500,75 L535,50 L520,120 Q490,150 450,120 Z" fill="#f6a41c"/><path d="M468,122 L486,70 L500,110 L516,118 Q492,138 468,122 Z" fill="#ffe25a"/>
</g><g id="sparks" transform="translate(1250,245) scale(0.15833)"><path d="M282,250 Q270,380 235,425 Q150,470 150,492 Q160,520 215,528 Q360,560 382,610 Q385,690 320,735 Q230,775 160,790 Q95,830 105,862 Q130,930 168,992 L136,1060 Q200,1120 262,1176 Q290,1240 270,1282 L200,1300" fill="none" stroke="#ffc62e" stroke-width="9" stroke-linejoin="round" stroke-linecap="round" opacity="0.95"/><path d="M215,528 Q360,560 382,610 Q385,690 320,735" fill="none" stroke="#ffc62e" stroke-width="16" stroke-linecap="round" opacity="0.9"/><g transform="translate(177.5,570.0) rotate(179.4)"><ellipse rx="11.0" ry="250.0" fill="#f06a0c"/><ellipse rx="6.8" ry="242.5" fill="#ffb400"/><ellipse rx="2.8" ry="225.0" fill="#ffe25a"/></g><g transform="translate(240.0,338.5) rotate(180.0)"><ellipse rx="11.0" ry="53.5" fill="#f06a0c"/><ellipse rx="6.8" ry="51.9" fill="#ffb400"/><ellipse rx="2.8" ry="48.1" fill="#ffe25a"/></g><g transform="translate(320.0,537.5) rotate(-179.1)"><ellipse rx="11.0" ry="312.5" fill="#f06a0c"/><ellipse rx="6.8" ry="303.2" fill="#ffb400"/><ellipse rx="2.8" ry="281.3" fill="#ffe25a"/></g><g transform="translate(240.0,787.5) rotate(180.0)"><ellipse rx="11.0" ry="257.5" fill="#f06a0c"/><ellipse rx="6.8" ry="249.8" fill="#ffb400"/><ellipse rx="2.8" ry="231.8" fill="#ffe25a"/></g><g transform="translate(292.5,935.0) rotate(-179.4)"><ellipse rx="11.0" ry="245.0" fill="#f06a0c"/><ellipse rx="6.8" ry="237.7" fill="#ffb400"/><ellipse rx="2.8" ry="220.5" fill="#ffe25a"/></g><g transform="translate(165.0,1107.5) rotate(180.0)"><ellipse rx="11.0" ry="117.5" fill="#f06a0c"/><ellipse rx="6.8" ry="114.0" fill="#ffb400"/><ellipse rx="2.8" ry="105.8" fill="#ffe25a"/></g><g transform="translate(237.0,1171.0) rotate(180.0)"><ellipse rx="11.0" ry="91.0" fill="#f06a0c"/><ellipse rx="6.8" ry="88.3" fill="#ffb400"/><ellipse rx="2.8" ry="81.9" fill="#ffe25a"/></g><g transform="translate(295.0,1233.0) rotate(180.0)"><ellipse rx="11.0" ry="63.0" fill="#f06a0c"/><ellipse rx="6.8" ry="61.1" fill="#ffb400"/><ellipse rx="2.8" ry="56.7" fill="#ffe25a"/></g><g transform="translate(194.0,1263.5) rotate(178.3)"><ellipse rx="6.5" ry="68.5" fill="#f06a0c"/><ellipse rx="4.0" ry="66.5" fill="#ffb400"/><ellipse rx="1.6" ry="61.7" fill="#ffe25a"/></g><g transform="translate(258.0,1320.0) rotate(180.0)"><ellipse rx="5.0" ry="30.0" fill="#f06a0c"/><ellipse rx="3.1" ry="29.1" fill="#ffb400"/><ellipse rx="1.2" ry="27.0" fill="#ffe25a"/></g><polygon points="187.2,24.1 178.8,91.8 226.8,85.8 187.5,114.1 239.6,158.1 175.5,134.8 170.6,183.0 151.8,138.4 97.4,179.4 134.3,122.1 88.4,106.6 136.1,98.2 108.2,35.9 155.9,84.7" fill="#f6a41c"/><polygon points="183.4,36.4 176.9,93.8 217.5,89.5 184.8,113.9 228.5,151.6 174.0,132.5 169.1,173.0 152.7,135.7 106.1,170.0 136.9,121.1 98.5,107.3 138.5,99.6 115.5,46.6 156.3,87.4" fill="#ffd028"/><circle cx="160" cy="112" r="27.6" fill="#fff27a" opacity="0.85"/><polygon points="353.4,3.7 323.2,93.6 390.3,98.8 329.0,126.4 387.9,200.8 306.9,151.4 286.9,215.7 273.6,149.7 188.0,190.6 254.2,122.6 195.9,88.8 263.2,90.6 242.4,-2.0 294.0,77.7" fill="#f6a41c"/><polygon points="344.8,19.4 320.1,95.9 376.6,101.2 325.3,125.4 374.4,188.9 305.4,147.9 287.6,201.7 275.4,146.3 202.5,180.1 258.0,122.0 209.4,92.6 266.1,93.1 249.4,14.5 293.8,81.5" fill="#ffd028"/><circle cx="292" cy="116" r="38.4" fill="#fff27a" opacity="0.85"/><polygon points="510.3,163.8 461.3,219.4 508.0,243.5 455.4,244.8 475.2,316.2 431.9,256.0 398.0,296.2 408.5,244.6 334.5,248.0 402.8,219.3 371.1,177.2 419.0,198.9 432.2,126.0 445.1,199.0" fill="#f6a41c"/><polygon points="499.4,172.5 458.3,220.1 497.4,241.1 453.1,242.9 469.1,303.6 431.9,253.0 402.7,286.4 410.9,242.8 348.1,244.9 405.7,219.9 379.7,184.1 420.3,201.6 432.2,140.0 443.8,201.7" fill="#ffd028"/><circle cx="432" cy="226" r="30.0" fill="#fff27a" opacity="0.85"/><polygon points="166.8,174.5 172.9,254.4 226.8,236.3 188.1,278.0 258.4,316.4 179.2,304.6 184.8,361.2 152.8,314.2 99.7,374.1 128.8,299.6 72.4,292.5 125.3,271.7 78.7,206.6 144.9,251.6" fill="#f6a41c"/><polygon points="165.3,189.6 171.2,257.1 216.9,242.7 184.9,278.4 244.0,311.6 176.9,302.4 180.8,350.1 153.1,311.0 107.5,361.2 131.5,297.8 84.1,291.0 128.4,272.7 89.5,217.1 146.0,254.6" fill="#ffd028"/><circle cx="156" cy="282" r="32.4" fill="#fff27a" opacity="0.85"/><polygon points="376.5,279.5 346.0,347.0 397.8,356.3 347.9,373.0 387.9,435.4 328.8,390.7 308.3,439.1 303.1,386.8 233.3,411.9 290.1,364.2 247.4,333.4 299.6,340.0 290.7,266.4 324.5,332.3" fill="#f6a41c"/><polygon points="368.6,291.0 343.4,348.5 386.9,357.1 345.1,371.9 378.4,425.1 327.9,387.8 309.9,428.3 304.8,384.3 245.5,404.9 293.1,364.0 257.6,337.4 301.7,342.2 294.8,279.8 324.1,335.3" fill="#ffd028"/><circle cx="320" cy="362" r="30.0" fill="#fff27a" opacity="0.85"/><path d="M140,1352 L178,1372 L190,1300 L212,1366 L238,1328 L236,1390 L262,1376 L240,1420 L168,1420 Z" fill="#f6a41c"/><path d="M170,1380 L196,1350 L214,1392 L232,1380 L226,1420 L180,1420 Z" fill="#ffe25a"/></g>
</svg>
</body></html>
